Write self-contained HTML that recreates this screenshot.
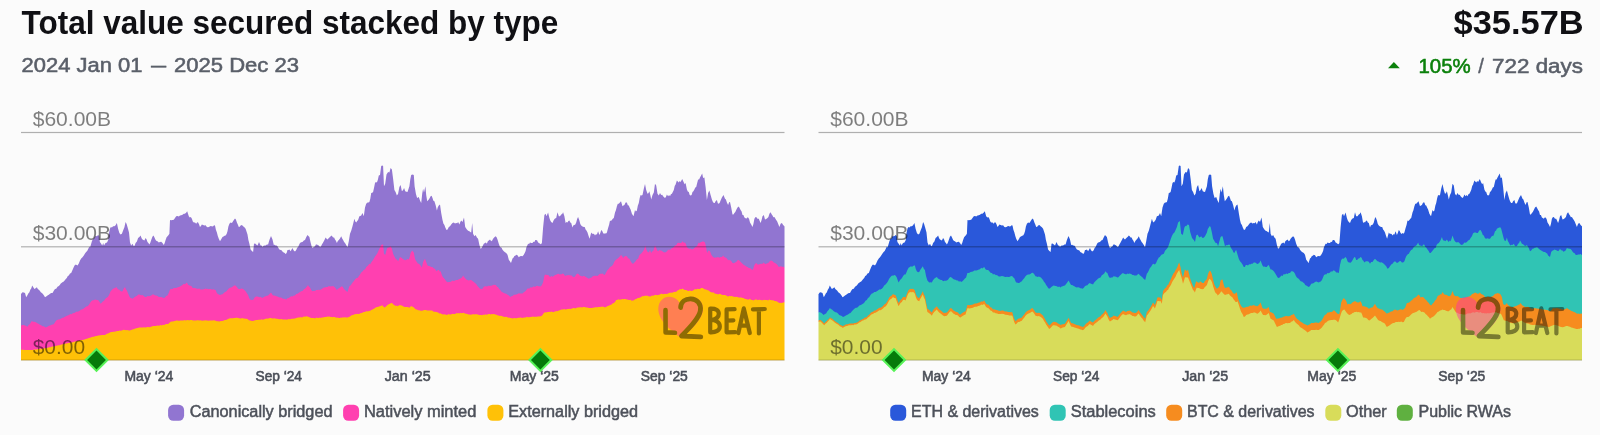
<!DOCTYPE html>
<html><head><meta charset="utf-8"><title>Total value secured stacked by type</title>
<style>
html,body{margin:0;padding:0;background:#fbfbfb;}
body{width:1600px;height:435px;overflow:hidden;font-family:"Liberation Sans",sans-serif;}
svg{display:block;font-family:"Liberation Sans",sans-serif;will-change:transform;opacity:0.9999;}
</style></head><body>
<svg width="1600" height="435" viewBox="0 0 1600 435">
<rect width="1600" height="435" fill="#fbfbfb"/>

<text x="21.6" y="34.4" font-size="32.8" font-weight="bold" fill="#101014" textLength="536.6" lengthAdjust="spacingAndGlyphs">Total value secured stacked by type</text>
<text x="21.6" y="72.4" font-size="20.2" fill="#5a5f69" stroke="#5a5f69" stroke-width="0.55" textLength="120.8" lengthAdjust="spacingAndGlyphs">2024 Jan 01</text>
<text x="151" y="72.4" font-size="20.2" fill="#5a5f69" stroke="#5a5f69" stroke-width="0.4" textLength="15.2" lengthAdjust="spacingAndGlyphs">—</text>
<text x="174" y="72.4" font-size="20.2" fill="#5a5f69" stroke="#5a5f69" stroke-width="0.55" textLength="125" lengthAdjust="spacingAndGlyphs">2025 Dec 23</text>
<text x="1453.6" y="33.8" font-size="34" font-weight="bold" fill="#101014" textLength="130" lengthAdjust="spacingAndGlyphs">$35.57B</text>
<path d="M1388,68.2 L1393.9,62 L1399.8,68.2Z" fill="#0b800b"/>
<text x="1418.5" y="72.6" font-size="20.2" fill="#0b800b" stroke="#0b800b" stroke-width="0.55" textLength="52.2" lengthAdjust="spacingAndGlyphs">105%</text>
<text x="1478.2" y="72.6" font-size="20.2" fill="#5a5f69" stroke="#5a5f69" stroke-width="0.4">/</text>
<text x="1492" y="72.6" font-size="20.2" fill="#5a5f69" stroke="#5a5f69" stroke-width="0.55" textLength="91" lengthAdjust="spacingAndGlyphs">722 days</text>

<defs><clipPath id="cl"><rect x="21.0" y="100" width="763.5" height="260.3"/></clipPath><clipPath id="cr"><rect x="818.5" y="100" width="763.5" height="260.3"/></clipPath></defs>
<g clip-path="url(#cl)" opacity="0.999">
<path d="M18.0,363.3 L18.0,294.1 L21.0,294.1 L22.5,292.2 L23.8,292.5 L25.0,292.9 L26.2,297.2 L27.3,295.4 L28.3,293.4 L29.4,292.2 L30.3,289.8 L31.3,288.3 L32.2,285.4 L33.3,287.3 L34.4,289.1 L35.6,288.3 L36.9,287.2 L37.8,288.9 L38.8,289.8 L39.8,290.7 L40.8,292.2 L41.9,292.9 L42.9,293.9 L44.0,295.4 L45.0,297.2 L46.2,296.6 L47.5,295.6 L48.8,294.8 L50.0,293.8 L51.2,293.1 L52.5,292.9 L53.8,290.7 L55.0,289.1 L56.2,288.7 L57.5,286.7 L58.8,286.0 L59.8,285.0 L60.8,283.6 L61.8,282.7 L62.8,282.0 L63.8,281.6 L64.8,280.2 L65.8,279.1 L66.8,278.1 L67.8,275.9 L68.8,275.4 L70.0,273.6 L71.2,272.9 L72.5,269.9 L73.8,267.0 L75.0,264.8 L76.2,264.7 L77.5,265.4 L78.8,263.4 L80.0,260.5 L81.2,258.5 L82.5,257.2 L83.8,255.6 L85.0,253.5 L86.1,252.0 L87.2,250.9 L88.3,248.8 L89.4,246.6 L90.0,247.5 L90.9,244.8 L91.9,241.2 L92.9,239.0 L94.0,238.6 L95.0,236.2 L96.0,236.3 L97.1,235.9 L98.1,235.0 L99.2,236.0 L99.9,242.0 L101.0,243.5 L102.2,245.5 L103.2,243.0 L104.0,245.5 L105.5,243.0 L107.0,242.5 L108.2,240.0 L109.0,233.0 L110.0,228.5 L110.9,227.1 L111.9,227.5 L113.1,226.2 L114.4,226.2 L115.6,225.3 L116.9,222.9 L118.1,228.8 L119.4,233.1 L120.6,234.5 L121.9,233.8 L123.1,230.6 L124.4,227.2 L125.6,221.9 L126.6,224.0 L127.5,226.9 L129.0,232.5 L130.0,242.5 L131.2,245.6 L132.5,243.8 L133.8,246.2 L134.7,245.4 L135.6,243.1 L136.9,241.6 L138.1,238.1 L139.4,237.1 L140.6,235.6 L141.6,238.2 L142.5,239.4 L143.4,239.9 L144.4,240.6 L145.6,238.1 L146.6,239.4 L147.5,241.9 L148.4,243.1 L149.4,244.4 L150.3,242.7 L151.2,240.0 L152.4,236.8 L153.5,235.6 L154.6,237.7 L155.6,240.0 L156.6,241.0 L157.5,241.2 L158.8,242.5 L160.0,241.9 L161.2,241.7 L162.5,243.1 L163.8,245.0 L164.7,243.0 L165.6,240.0 L166.6,237.3 L167.5,236.2 L168.4,235.2 L169.4,233.8 L170.0,220.0 L171.2,220.3 L172.5,220.0 L173.8,219.7 L175.0,218.0 L176.2,216.2 L177.5,216.1 L178.8,216.4 L180.0,215.6 L181.2,215.2 L182.5,214.7 L183.8,213.8 L184.9,213.7 L186.1,212.7 L187.2,211.2 L188.8,216.2 L189.8,217.5 L190.8,217.0 L191.9,218.8 L192.8,221.4 L193.8,222.5 L195.0,222.4 L196.2,223.8 L197.2,222.2 L198.1,222.5 L199.1,224.6 L200.0,226.9 L200.9,226.1 L201.9,224.4 L203.1,225.1 L204.4,225.6 L205.6,225.3 L206.9,226.9 L207.9,227.2 L209.0,227.0 L210.0,226.2 L211.0,225.9 L212.1,226.5 L213.1,226.2 L214.1,225.2 L215.0,225.6 L215.9,229.7 L216.9,232.5 L217.8,235.9 L218.8,238.8 L220.0,241.2 L221.2,239.2 L222.5,236.9 L223.5,236.5 L224.6,235.7 L225.6,235.6 L226.6,234.0 L227.5,231.2 L228.4,226.5 L229.4,223.8 L230.6,222.5 L231.9,223.1 L232.9,221.6 L234.0,219.7 L235.0,218.5 L235.9,219.5 L236.9,222.5 L237.8,224.4 L238.8,226.9 L239.7,226.8 L240.6,225.6 L241.9,224.9 L243.1,226.2 L244.4,227.3 L245.6,228.8 L246.6,231.7 L247.5,234.4 L248.4,240.1 L249.4,243.8 L250.6,249.4 L251.9,251.1 L253.1,251.9 L254.0,243.8 L255.1,243.4 L256.2,244.4 L257.5,245.6 L259.0,241.9 L260.6,245.6 L261.6,245.6 L262.5,246.9 L263.5,245.8 L264.6,245.4 L265.6,245.6 L266.9,244.5 L268.1,244.4 L269.4,240.0 L271.0,235.9 L272.5,239.4 L273.8,245.0 L274.7,244.8 L275.6,245.6 L276.6,245.6 L277.5,246.2 L278.4,248.0 L279.4,249.4 L280.6,250.0 L281.9,250.6 L282.8,252.0 L283.8,252.5 L284.7,253.0 L285.6,254.0 L286.6,252.9 L287.5,250.0 L288.4,250.1 L289.4,249.4 L290.6,251.2 L291.6,249.4 L292.5,248.1 L293.4,250.1 L294.4,251.2 L295.3,251.3 L296.2,250.0 L297.2,247.8 L298.1,246.9 L299.1,244.8 L300.0,243.1 L301.2,242.3 L302.5,241.9 L303.8,240.4 L305.0,240.0 L306.2,237.3 L307.5,235.0 L308.4,235.9 L309.4,236.9 L310.6,242.5 L311.6,246.3 L312.5,248.1 L313.8,247.0 L315.0,246.2 L315.9,244.4 L316.9,244.4 L317.8,245.0 L318.8,245.6 L320.0,246.9 L320.9,246.6 L321.9,244.4 L322.8,242.9 L323.8,241.2 L324.7,239.6 L325.6,237.5 L326.6,238.7 L327.5,239.4 L328.4,238.5 L329.4,237.5 L330.3,236.8 L331.2,235.6 L332.2,236.2 L333.1,237.5 L334.1,237.4 L335.0,239.4 L335.9,240.8 L336.9,243.1 L337.8,240.9 L338.8,240.0 L340.0,238.4 L341.2,236.2 L342.2,238.5 L343.1,240.0 L344.1,242.1 L345.0,243.1 L346.2,245.1 L347.5,247.2 L348.8,241.2 L350.0,233.8 L351.2,230.8 L352.5,226.2 L353.4,222.8 L354.4,218.8 L355.3,221.4 L356.2,222.5 L357.2,221.0 L358.1,220.0 L359.4,216.2 L360.3,216.0 L361.2,215.6 L362.5,213.1 L363.8,216.2 L365.0,207.5 L366.2,203.8 L367.5,202.5 L368.4,202.6 L369.4,201.9 L370.3,198.8 L371.2,193.1 L372.2,192.7 L373.1,191.9 L374.1,187.4 L375.0,183.1 L375.9,182.0 L376.9,182.5 L377.8,180.0 L378.8,175.6 L380.0,175.0 L381.2,166.0 L382.2,165.6 L383.1,166.0 L384.0,186.2 L385.2,183.8 L386.5,174.4 L388.1,171.9 L389.4,172.5 L390.6,168.1 L391.9,169.4 L393.1,178.8 L394.4,190.0 L395.6,191.9 L396.9,195.6 L398.1,193.8 L399.4,186.9 L400.6,185.0 L401.9,191.2 L403.1,190.0 L404.1,188.1 L405.2,191.2 L406.4,191.7 L407.5,191.9 L408.4,189.2 L409.4,186.2 L410.3,179.3 L411.2,175.0 L412.5,174.4 L413.8,175.0 L414.6,186.2 L415.9,193.8 L417.1,198.1 L418.8,196.9 L420.0,200.6 L421.2,203.1 L422.2,193.8 L423.1,188.8 L424.0,192.5 L425.4,186.2 L426.2,195.0 L427.2,201.2 L428.8,199.4 L429.7,198.1 L430.6,196.2 L431.6,195.8 L432.5,198.1 L433.4,200.8 L434.4,201.2 L435.6,205.0 L436.9,210.6 L437.8,207.2 L438.8,205.6 L440.0,204.4 L441.2,213.1 L442.5,220.0 L443.4,223.6 L444.4,225.0 L445.4,227.8 L446.5,230.0 L447.6,229.5 L448.8,226.9 L450.0,226.3 L451.2,224.4 L452.5,223.1 L453.8,222.5 L455.0,223.5 L456.2,223.1 L457.2,223.3 L458.1,221.9 L459.4,224.4 L460.3,221.9 L461.2,220.6 L462.5,221.9 L464.0,217.5 L465.2,226.9 L466.9,229.4 L468.1,230.8 L469.4,231.2 L470.3,232.1 L471.2,232.5 L472.2,223.1 L473.1,233.8 L474.4,236.2 L475.6,235.0 L476.9,237.5 L478.1,238.8 L479.4,245.0 L480.6,248.8 L481.6,248.1 L482.5,246.2 L483.8,243.7 L485.0,243.1 L485.9,242.5 L486.9,243.8 L487.8,241.3 L488.8,240.6 L490.0,239.4 L491.2,241.2 L492.2,240.5 L493.1,238.8 L494.4,237.3 L495.6,236.2 L496.6,237.3 L497.5,239.4 L498.8,243.8 L500.0,246.9 L500.6,247.2 L501.6,247.7 L502.5,249.8 L503.8,251.2 L505.0,252.2 L506.2,252.9 L507.5,254.8 L508.8,259.8 L509.9,261.3 L511.0,262.9 L512.5,258.5 L513.4,257.8 L514.4,256.0 L515.3,255.8 L516.2,254.8 L517.5,255.2 L518.8,257.2 L520.0,256.2 L521.2,256.0 L522.5,256.3 L523.8,254.8 L524.7,253.0 L525.6,251.0 L526.4,247.2 L526.9,246.2 L528.1,243.8 L529.1,244.0 L530.0,242.5 L531.2,243.0 L532.5,243.1 L533.4,241.7 L534.4,241.9 L535.3,240.0 L536.2,240.0 L537.2,240.4 L538.1,242.5 L539.1,243.1 L540.0,243.8 L540.9,244.3 L541.9,243.1 L543.1,227.5 L544.4,215.0 L545.6,213.8 L546.5,216.2 L548.1,212.5 L549.4,218.1 L550.3,220.6 L551.2,221.9 L552.5,223.1 L553.8,220.0 L555.0,218.4 L556.2,218.1 L557.5,212.2 L558.8,216.2 L560.0,216.2 L561.2,214.4 L562.2,214.0 L563.1,212.2 L564.4,216.2 L565.6,223.1 L566.6,222.1 L567.5,222.5 L568.4,220.9 L569.4,220.6 L570.3,222.4 L571.2,223.1 L572.5,227.5 L573.4,225.3 L574.4,225.0 L575.3,224.4 L576.2,222.5 L577.2,218.7 L578.1,216.9 L579.4,220.6 L580.3,224.1 L581.2,225.6 L582.5,226.5 L583.8,226.9 L584.7,227.1 L585.6,229.4 L586.6,230.7 L587.5,232.5 L588.6,235.9 L589.6,238.8 L591.2,232.5 L592.2,233.7 L593.1,233.8 L594.1,234.1 L595.0,235.6 L595.9,234.3 L596.9,234.4 L598.1,231.2 L599.4,235.0 L600.3,232.9 L601.2,230.0 L602.2,231.1 L603.1,233.1 L604.1,234.0 L605.0,233.1 L605.9,233.7 L606.9,232.5 L608.1,228.1 L609.1,224.8 L610.0,220.6 L610.9,221.0 L611.9,220.0 L612.8,218.7 L613.8,218.1 L615.0,212.5 L615.9,210.3 L616.9,206.2 L617.8,203.7 L618.8,203.8 L619.9,202.5 L621.0,201.2 L622.5,206.2 L623.4,205.4 L624.4,205.0 L625.6,202.5 L626.9,202.5 L627.8,205.2 L628.8,205.6 L629.7,207.8 L630.6,209.4 L631.9,213.8 L633.5,216.2 L635.0,210.0 L635.9,211.6 L636.9,210.6 L637.8,205.8 L638.8,203.1 L639.7,197.9 L640.6,195.0 L641.6,195.6 L642.5,195.0 L643.8,188.8 L645.0,184.1 L646.2,190.0 L647.5,193.8 L648.4,193.2 L649.4,191.2 L650.6,196.2 L651.2,199.4 L652.5,195.0 L653.8,192.5 L655.0,183.8 L656.2,185.6 L657.5,193.8 L658.8,195.6 L660.0,193.1 L661.2,195.0 L662.2,194.8 L663.1,196.2 L664.1,197.2 L665.0,198.1 L665.9,197.1 L666.9,194.4 L668.1,196.2 L669.1,195.1 L670.0,196.2 L670.9,194.3 L671.9,193.8 L672.8,191.9 L673.8,190.0 L674.7,186.0 L675.6,184.4 L676.9,180.6 L677.8,181.4 L678.8,182.5 L679.7,180.9 L680.6,181.9 L682.2,179.0 L683.8,182.5 L684.7,184.3 L685.6,183.1 L686.9,189.4 L687.8,191.4 L688.8,191.9 L689.7,195.0 L690.6,195.6 L691.6,195.1 L692.5,191.9 L693.4,191.2 L694.4,189.4 L695.3,187.4 L696.2,186.9 L697.2,183.1 L698.1,179.4 L699.1,179.5 L700.0,177.5 L701.1,175.5 L702.2,173.5 L703.1,178.1 L704.4,177.5 L705.6,186.9 L706.9,200.0 L708.1,193.1 L709.4,190.6 L710.6,195.0 L711.9,199.4 L712.8,201.7 L713.8,203.1 L714.7,203.1 L715.6,201.2 L716.9,200.0 L717.8,203.2 L718.8,203.8 L719.7,202.8 L720.6,200.6 L721.9,197.5 L723.5,195.0 L725.0,198.8 L725.9,199.6 L726.9,202.5 L728.1,205.0 L729.1,202.3 L730.0,201.9 L731.2,207.5 L732.5,214.4 L733.4,214.4 L734.4,213.1 L735.3,212.1 L736.2,210.0 L737.5,207.5 L738.8,206.6 L739.7,208.3 L740.6,210.0 L741.6,211.4 L742.5,215.0 L743.4,215.1 L744.4,217.5 L745.3,218.1 L746.2,218.8 L747.2,217.6 L748.1,217.5 L749.1,218.9 L750.0,222.5 L751.2,224.6 L752.5,226.9 L753.4,223.9 L754.4,218.8 L755.3,217.2 L756.2,216.9 L757.5,218.7 L758.8,218.8 L759.7,220.9 L760.6,223.1 L761.6,219.9 L762.5,216.2 L763.8,215.0 L765.0,219.4 L766.2,219.1 L767.5,218.1 L768.4,217.1 L769.4,213.8 L770.6,212.2 L771.6,214.3 L772.5,215.6 L773.4,217.2 L774.4,216.9 L775.3,218.4 L776.2,220.0 L777.2,221.4 L778.1,223.8 L779.4,226.9 L780.6,223.8 L781.9,223.1 L783.1,225.0 L784.4,226.2 L784.5,226.2 L787.5,226.2 L787.5,363.3Z" fill="#9175d1" />
<path d="M18.0,363.3 L18.0,325.5 L21.0,325.5 L21.2,325.5 L22.5,325.0 L23.8,324.9 L25.0,325.5 L26.2,326.0 L27.5,326.8 L28.6,325.1 L29.7,324.2 L30.8,322.4 L31.9,321.1 L33.0,321.7 L34.1,321.8 L35.2,321.9 L36.2,322.4 L37.3,323.3 L38.4,323.8 L39.5,324.4 L40.6,324.9 L41.6,325.6 L42.6,326.2 L43.6,326.2 L44.6,326.7 L45.6,327.4 L46.7,327.0 L47.8,326.5 L48.9,325.8 L50.0,325.5 L51.2,324.9 L52.5,324.5 L53.8,324.2 L55.0,322.3 L56.2,320.5 L57.2,319.9 L58.2,319.5 L59.2,319.6 L60.2,318.9 L61.2,318.6 L62.3,317.8 L63.3,317.7 L64.4,317.0 L65.4,316.5 L66.5,316.1 L67.5,315.5 L68.5,315.3 L69.6,314.4 L70.6,314.0 L71.7,314.2 L72.7,313.3 L73.8,313.0 L74.8,312.8 L75.8,312.0 L76.9,311.6 L77.9,311.8 L79.0,311.1 L80.0,310.5 L81.0,309.6 L82.0,309.5 L83.0,308.9 L84.0,308.3 L85.0,307.5 L86.2,306.5 L87.5,306.2 L88.8,305.0 L90.0,303.1 L91.2,301.2 L92.5,300.3 L93.8,300.3 L95.0,299.4 L96.0,299.8 L97.1,300.0 L98.1,300.0 L99.4,301.7 L100.6,303.8 L101.9,302.6 L103.1,301.2 L104.2,300.6 L105.2,299.0 L106.2,298.1 L107.5,297.2 L108.8,295.6 L109.7,293.6 L110.6,291.2 L111.9,290.1 L113.1,288.8 L114.2,288.3 L115.2,287.9 L116.2,286.9 L117.2,288.3 L118.1,289.4 L119.1,289.6 L120.0,290.6 L121.2,291.4 L122.5,291.2 L123.8,288.5 L125.0,286.9 L125.9,289.3 L126.9,290.6 L127.8,292.8 L128.8,295.0 L129.7,297.1 L130.6,298.1 L131.6,298.3 L132.5,298.8 L133.8,297.7 L135.0,296.7 L136.2,296.2 L137.3,295.6 L138.3,294.5 L139.4,294.4 L140.4,295.0 L141.5,295.2 L142.5,295.0 L143.8,295.9 L145.0,296.9 L146.2,296.9 L147.5,296.1 L148.8,296.2 L150.0,295.9 L151.2,295.4 L152.5,294.4 L153.8,294.4 L155.0,295.4 L156.2,295.6 L157.5,296.0 L158.8,296.9 L160.0,296.9 L161.2,296.9 L162.5,297.4 L163.8,298.1 L165.0,297.5 L166.2,296.0 L167.5,295.6 L168.8,292.8 L170.0,289.4 L171.2,289.1 L172.5,288.9 L173.8,288.1 L174.8,288.1 L175.8,288.1 L176.8,287.7 L177.8,287.2 L178.8,286.9 L180.0,286.6 L181.2,285.7 L182.5,285.0 L183.6,283.8 L184.7,284.2 L185.8,283.5 L186.9,282.5 L188.1,284.7 L189.4,285.6 L190.5,285.8 L191.6,286.3 L192.7,287.9 L193.8,288.1 L195.0,287.9 L196.2,288.6 L197.5,288.8 L198.5,288.8 L199.5,288.4 L200.5,289.4 L201.5,289.5 L202.5,289.4 L203.5,289.3 L204.5,289.0 L205.5,288.5 L206.5,288.9 L207.5,288.8 L208.5,289.2 L209.5,289.0 L210.5,288.9 L211.5,289.4 L212.5,289.4 L213.5,289.2 L214.6,289.7 L215.6,290.0 L216.6,292.4 L217.5,293.8 L218.8,294.5 L220.0,295.0 L221.2,294.4 L222.5,294.2 L223.8,293.1 L225.0,292.1 L226.2,291.4 L227.5,290.0 L228.8,288.6 L230.0,287.8 L231.2,287.5 L232.5,286.8 L233.8,285.8 L235.0,285.2 L236.0,285.9 L237.1,287.2 L238.1,288.8 L239.2,288.9 L240.3,289.0 L241.4,288.5 L242.5,288.8 L243.5,289.3 L244.6,290.3 L245.6,291.2 L246.9,293.2 L248.1,295.0 L249.1,297.7 L250.0,299.4 L251.0,299.7 L252.1,300.0 L253.1,300.0 L254.1,298.3 L255.0,296.9 L256.2,296.4 L257.5,296.4 L258.8,296.9 L259.8,297.2 L260.9,296.8 L262.0,297.9 L263.1,297.5 L264.1,296.8 L265.1,296.4 L266.1,296.1 L267.1,295.7 L268.1,295.6 L269.1,294.5 L270.0,293.4 L271.0,292.5 L272.1,294.3 L273.1,295.6 L274.2,295.4 L275.2,295.8 L276.2,296.2 L277.5,296.6 L278.8,297.2 L280.0,297.5 L281.2,297.5 L282.5,298.6 L283.8,298.8 L285.0,298.9 L286.2,299.4 L287.5,298.3 L288.8,298.0 L290.0,296.9 L291.2,296.3 L292.5,296.4 L293.8,295.6 L295.0,295.4 L296.2,294.0 L297.5,293.8 L298.8,292.7 L300.0,292.0 L301.2,291.2 L302.5,291.0 L303.8,289.3 L305.0,288.8 L306.0,287.4 L306.9,286.7 L307.9,285.0 L308.9,286.5 L310.0,287.5 L311.2,290.0 L312.5,291.2 L313.8,290.7 L315.0,290.9 L316.2,290.0 L317.5,290.0 L318.8,289.7 L320.0,290.0 L321.2,289.3 L322.5,288.4 L323.8,287.5 L325.0,287.4 L326.2,287.1 L327.5,286.9 L328.8,286.1 L330.0,286.6 L331.2,286.2 L332.3,286.2 L333.3,286.1 L334.4,286.9 L335.6,288.2 L336.9,290.0 L338.1,288.7 L339.4,288.1 L340.6,287.0 L341.9,286.2 L342.9,287.0 L344.0,289.1 L345.0,290.0 L346.2,290.9 L347.5,291.9 L348.4,289.1 L349.4,286.2 L350.5,285.5 L351.6,284.0 L352.8,282.2 L353.9,280.9 L355.0,279.4 L356.2,278.2 L357.5,277.9 L358.8,276.2 L360.0,274.4 L361.2,272.5 L362.5,271.6 L363.8,269.8 L365.0,269.4 L366.0,267.4 L367.1,266.2 L368.1,265.6 L369.2,263.8 L370.2,264.3 L371.2,262.5 L372.5,260.7 L373.8,258.8 L375.0,256.4 L376.2,255.0 L377.5,253.0 L378.8,250.0 L380.0,247.4 L381.2,245.0 L382.2,244.4 L383.1,244.4 L384.0,253.8 L385.2,255.0 L386.9,248.8 L387.8,247.4 L388.8,247.5 L389.7,247.1 L390.6,246.2 L391.9,248.8 L393.1,253.8 L394.1,255.9 L395.0,257.5 L395.9,259.3 L396.9,259.4 L398.1,261.2 L399.1,259.0 L400.0,256.9 L400.9,257.5 L401.9,258.1 L402.8,259.0 L403.8,259.4 L405.0,260.3 L406.2,260.0 L407.5,258.9 L408.8,259.4 L409.7,257.1 L410.6,253.1 L412.2,250.6 L413.8,252.5 L415.0,258.8 L415.9,260.8 L416.9,261.9 L417.8,263.4 L418.8,263.8 L419.7,264.6 L420.6,265.6 L421.9,267.5 L423.1,261.9 L424.1,260.1 L425.0,258.8 L426.2,261.9 L427.5,265.6 L428.8,265.9 L430.0,266.2 L431.2,267.0 L432.5,266.9 L433.8,268.4 L435.0,268.8 L435.9,270.5 L436.9,271.2 L437.8,270.1 L438.8,270.0 L439.7,271.4 L440.6,271.2 L441.9,275.0 L442.8,277.1 L443.8,278.1 L445.0,279.6 L446.2,281.2 L447.5,282.2 L448.8,281.9 L450.0,281.9 L451.2,281.6 L452.5,280.6 L453.8,281.0 L455.0,280.6 L456.2,280.0 L457.5,280.1 L458.8,279.2 L460.0,278.8 L461.0,278.2 L462.1,277.2 L463.1,275.6 L464.1,277.0 L465.0,278.1 L466.2,279.6 L467.5,280.0 L468.8,280.5 L470.0,280.1 L471.2,280.0 L472.5,281.1 L473.8,281.9 L475.0,283.0 L476.2,284.0 L477.5,286.0 L478.5,286.9 L479.6,288.3 L480.6,289.1 L481.7,288.9 L482.8,288.4 L483.9,286.6 L485.0,286.6 L486.0,285.9 L487.0,286.7 L488.0,285.7 L489.0,285.8 L490.0,286.0 L491.0,285.5 L492.0,285.8 L493.0,284.7 L494.0,284.9 L495.0,284.8 L496.0,285.3 L497.1,286.7 L498.1,287.2 L499.2,288.9 L500.2,289.8 L501.2,291.6 L502.5,292.3 L503.8,293.0 L505.0,293.5 L506.2,293.7 L507.5,294.8 L508.9,295.4 L510.2,297.0 L511.4,296.3 L512.6,296.0 L513.8,294.8 L515.0,294.8 L516.2,294.6 L517.5,294.1 L518.8,293.3 L520.0,293.4 L521.2,293.5 L522.5,293.5 L523.8,292.3 L525.0,291.6 L526.2,290.3 L527.5,288.5 L528.5,288.6 L529.5,288.5 L530.5,287.2 L531.5,287.6 L532.5,287.2 L533.8,286.3 L535.0,286.9 L536.2,286.0 L537.3,285.7 L538.4,286.3 L539.5,286.2 L540.6,286.6 L541.9,284.9 L543.1,282.2 L544.4,275.4 L545.6,274.6 L546.9,275.0 L548.1,275.0 L549.1,275.7 L550.0,277.2 L551.2,276.1 L552.5,276.8 L553.8,276.0 L555.0,275.0 L556.2,274.7 L557.5,274.1 L558.5,273.7 L559.5,274.4 L560.5,274.3 L561.5,274.3 L562.5,273.5 L563.8,274.1 L565.0,276.0 L566.0,275.5 L567.0,275.3 L568.0,275.2 L569.0,275.1 L570.0,275.4 L571.2,275.3 L572.5,276.4 L573.8,277.2 L575.0,276.4 L576.2,274.5 L577.5,273.5 L578.8,274.2 L580.0,275.8 L581.2,276.0 L582.5,276.4 L583.8,275.7 L585.0,276.6 L586.2,277.2 L587.5,277.9 L588.8,278.8 L590.0,277.9 L591.2,277.7 L592.5,276.6 L593.5,276.1 L594.5,275.8 L595.5,275.8 L596.5,275.7 L597.5,276.0 L598.8,274.7 L600.0,273.8 L601.0,273.7 L602.0,273.7 L603.0,273.5 L604.0,274.9 L605.0,274.4 L606.2,272.2 L607.5,270.0 L608.8,268.8 L610.0,266.9 L611.0,266.5 L612.1,265.8 L613.1,264.4 L614.4,261.5 L615.6,260.0 L616.7,259.2 L617.7,258.4 L618.8,257.5 L619.9,256.3 L621.0,255.0 L622.1,256.1 L623.1,258.1 L624.4,256.6 L625.6,256.1 L626.9,256.2 L628.1,258.3 L629.4,258.8 L630.3,260.5 L631.2,261.9 L632.2,263.5 L633.1,263.8 L634.4,262.6 L635.6,261.2 L636.9,259.3 L638.1,258.8 L639.1,255.8 L640.0,254.4 L641.2,253.5 L642.5,251.9 L643.4,250.8 L644.4,248.8 L645.2,245.6 L646.5,250.0 L648.1,252.5 L649.1,251.7 L650.0,250.0 L651.2,253.1 L652.2,251.3 L653.1,251.2 L654.1,248.4 L655.0,245.6 L656.2,248.1 L657.2,250.4 L658.1,251.2 L659.4,250.0 L660.6,250.6 L661.9,250.7 L663.1,251.9 L664.1,252.2 L665.0,252.5 L666.2,252.1 L667.5,250.6 L668.8,249.6 L670.0,250.0 L671.2,248.6 L672.5,248.1 L673.8,246.9 L675.0,245.6 L676.2,245.2 L677.5,243.1 L678.8,242.8 L680.0,243.1 L681.2,243.0 L682.5,241.2 L683.8,242.7 L685.0,242.5 L685.9,244.0 L686.9,246.9 L688.1,248.3 L689.4,248.8 L690.6,248.6 L691.9,249.4 L693.1,249.1 L694.4,248.1 L695.6,246.7 L696.9,246.2 L697.8,244.3 L698.8,242.5 L699.8,243.2 L700.8,242.1 L701.9,241.9 L702.9,241.3 L704.0,241.8 L705.0,242.5 L706.2,247.5 L707.1,253.1 L708.4,250.6 L710.0,251.2 L711.2,254.4 L712.2,255.9 L713.1,256.9 L714.4,257.8 L715.6,257.5 L716.9,257.6 L718.1,256.9 L719.4,257.7 L720.6,256.9 L721.9,256.9 L723.1,255.6 L724.1,256.8 L725.0,257.5 L726.2,257.8 L727.5,259.4 L728.8,260.2 L730.0,260.0 L731.2,261.0 L732.5,263.1 L733.8,263.2 L735.0,262.5 L736.2,262.1 L737.5,260.3 L738.8,260.0 L740.0,261.2 L741.2,262.5 L742.5,263.7 L743.8,265.0 L745.0,265.6 L746.2,266.4 L747.5,266.9 L748.8,267.9 L750.0,268.1 L751.2,269.0 L752.5,270.0 L753.4,268.2 L754.4,265.0 L755.3,263.7 L756.2,263.1 L757.5,264.4 L758.8,264.4 L760.0,264.0 L761.2,263.8 L762.5,263.8 L763.8,262.5 L765.0,263.9 L766.2,263.8 L767.5,263.3 L768.8,262.5 L769.9,260.9 L771.0,260.6 L772.4,261.0 L773.8,262.5 L775.0,263.1 L776.2,263.8 L777.5,265.0 L778.8,266.9 L780.0,266.4 L781.2,266.2 L782.3,267.0 L783.3,266.5 L784.4,267.5 L784.5,267.5 L787.5,267.5 L787.5,363.3Z" fill="#ff40b0" />
<path d="M18.0,363.3 L18.0,349.8 L21.0,349.8 L21.2,349.8 L22.4,349.7 L23.6,349.8 L24.7,349.9 L25.9,349.9 L27.0,350.0 L28.1,349.9 L29.2,350.0 L30.3,349.9 L31.4,350.0 L32.5,349.9 L33.5,349.7 L34.5,349.5 L35.5,349.5 L36.6,349.4 L37.6,349.2 L38.6,349.1 L39.6,348.9 L40.6,348.8 L41.7,348.7 L42.9,348.4 L44.0,348.3 L45.1,348.3 L46.2,348.1 L47.3,347.9 L48.3,347.6 L49.4,347.3 L50.4,347.2 L51.5,346.8 L52.5,346.6 L53.5,346.4 L54.5,346.2 L55.5,346.1 L56.5,345.7 L57.5,345.6 L58.5,345.2 L59.6,345.2 L60.6,344.8 L61.7,344.4 L62.7,344.2 L63.8,344.0 L64.8,343.8 L65.8,343.6 L66.9,343.4 L67.9,343.0 L69.0,343.1 L70.0,342.8 L71.0,342.4 L72.1,342.4 L73.1,341.9 L74.2,341.7 L75.2,341.6 L76.2,341.2 L77.3,341.0 L78.3,341.0 L79.4,340.7 L80.4,340.3 L81.5,340.1 L82.5,340.0 L83.5,339.8 L84.6,339.4 L85.6,339.1 L86.7,338.7 L87.7,338.6 L88.8,338.1 L89.8,337.8 L90.8,337.6 L91.9,337.0 L92.9,336.8 L94.0,336.7 L95.0,336.2 L96.0,336.1 L97.0,336.0 L98.0,335.5 L99.0,335.4 L100.0,335.2 L101.0,335.2 L102.0,335.1 L103.0,335.0 L104.0,335.1 L105.0,334.9 L106.0,334.3 L107.0,333.7 L108.0,333.5 L109.0,332.9 L110.0,332.4 L111.1,332.0 L112.1,332.1 L113.2,331.7 L114.3,331.7 L115.4,331.6 L116.4,331.2 L117.5,331.1 L118.6,331.1 L119.6,330.6 L120.7,330.8 L121.8,330.6 L122.9,330.1 L123.9,329.8 L125.0,329.9 L126.0,330.2 L127.0,330.0 L128.0,330.2 L129.0,330.4 L130.0,330.5 L131.0,330.1 L132.0,329.8 L133.0,329.3 L134.0,329.2 L135.0,328.6 L136.0,328.6 L137.0,328.1 L138.0,327.9 L139.0,327.4 L140.0,327.4 L141.0,327.6 L142.0,327.6 L143.0,327.4 L144.0,327.3 L145.0,327.4 L146.0,327.4 L147.1,327.0 L148.1,327.1 L149.2,327.2 L150.2,327.0 L151.2,326.8 L152.3,326.3 L153.3,326.1 L154.4,326.1 L155.4,326.0 L156.5,325.8 L157.5,325.5 L158.5,325.7 L159.6,325.5 L160.6,324.9 L161.7,325.4 L162.7,324.8 L163.8,324.9 L164.8,324.8 L165.8,324.1 L166.8,324.0 L167.8,323.9 L168.8,323.6 L170.0,322.3 L171.2,321.5 L172.2,321.5 L173.2,321.4 L174.2,321.0 L175.2,321.0 L176.2,320.5 L177.3,320.5 L178.3,320.7 L179.4,320.7 L180.4,320.5 L181.5,320.4 L182.5,320.5 L183.5,320.5 L184.5,320.0 L185.5,320.4 L186.5,320.2 L187.5,319.9 L188.6,320.3 L189.6,320.2 L190.7,319.9 L191.8,319.9 L192.9,320.5 L193.9,320.6 L195.0,320.5 L196.0,320.5 L197.1,320.2 L198.1,320.2 L199.2,320.5 L200.2,320.2 L201.2,320.5 L202.3,320.7 L203.3,320.5 L204.4,320.4 L205.4,320.2 L206.5,320.5 L207.5,320.5 L208.6,320.7 L209.6,320.5 L210.7,320.4 L211.8,320.6 L212.9,320.5 L213.9,320.3 L215.0,320.5 L216.1,321.0 L217.2,321.3 L218.3,321.3 L219.4,321.5 L220.0,321.2 L221.2,321.1 L222.5,321.1 L223.8,320.6 L224.8,320.1 L225.8,319.9 L226.8,319.7 L227.8,319.1 L228.8,318.8 L229.8,318.3 L230.8,318.2 L231.9,318.3 L232.9,318.2 L234.0,317.9 L235.0,317.9 L236.0,317.7 L237.1,317.8 L238.1,318.0 L239.2,318.3 L240.2,318.5 L241.2,318.4 L242.2,318.1 L243.2,318.4 L244.2,318.5 L245.2,318.7 L246.2,318.8 L247.5,319.1 L248.8,320.3 L250.0,320.6 L251.0,320.8 L252.1,321.0 L253.1,320.9 L254.2,320.6 L255.3,320.2 L256.4,319.9 L257.5,320.0 L258.5,319.7 L259.6,319.7 L260.6,319.8 L261.7,319.3 L262.7,319.8 L263.8,319.4 L264.8,318.9 L265.8,318.8 L266.9,318.6 L267.9,318.7 L269.0,318.3 L270.0,318.1 L271.0,317.9 L272.1,318.5 L273.1,318.5 L274.2,318.2 L275.2,318.5 L276.2,318.8 L277.3,318.8 L278.3,319.0 L279.4,319.2 L280.4,319.2 L281.5,319.0 L282.5,319.4 L283.8,319.4 L285.0,319.4 L286.2,319.6 L287.2,319.8 L288.2,319.1 L289.2,319.3 L290.2,319.2 L291.2,318.8 L292.2,318.8 L293.2,318.7 L294.2,318.4 L295.2,318.5 L296.2,318.1 L297.2,317.7 L298.2,317.6 L299.2,317.5 L300.2,317.2 L301.2,317.2 L302.2,317.4 L303.2,316.7 L304.2,316.4 L305.2,316.8 L306.2,316.2 L307.5,316.6 L308.8,316.9 L310.0,317.6 L311.2,318.1 L312.5,318.1 L313.5,318.0 L314.6,318.2 L315.6,318.3 L316.7,317.6 L317.7,317.9 L318.8,317.9 L319.8,317.4 L320.8,318.0 L321.8,317.6 L322.8,317.4 L323.8,317.2 L325.0,317.1 L326.2,316.9 L327.5,316.6 L328.5,316.8 L329.5,316.6 L330.5,317.1 L331.5,317.1 L332.5,317.2 L333.5,317.0 L334.6,317.1 L335.6,317.4 L336.7,317.7 L337.7,317.6 L338.8,317.9 L339.8,317.9 L340.8,317.6 L341.8,317.8 L342.8,317.3 L343.8,317.5 L345.0,317.3 L346.2,317.5 L347.5,317.5 L348.8,316.9 L350.0,316.6 L351.2,315.6 L352.5,315.1 L353.8,314.7 L355.0,314.0 L356.0,314.2 L357.0,313.7 L358.0,314.0 L359.0,314.0 L360.0,313.5 L361.0,313.1 L362.0,312.9 L363.0,312.3 L364.0,311.9 L365.0,311.9 L366.0,311.3 L367.0,311.2 L368.0,311.5 L369.0,310.8 L370.0,311.0 L371.2,310.0 L372.5,309.6 L373.8,308.8 L375.0,307.9 L376.2,307.3 L377.5,306.9 L378.5,306.8 L379.6,306.2 L380.6,305.9 L381.6,305.4 L382.5,305.4 L383.4,306.6 L384.4,307.5 L385.4,306.9 L386.5,306.0 L387.5,305.0 L388.8,304.2 L390.0,303.8 L391.2,303.1 L392.3,303.3 L393.3,304.5 L394.4,305.0 L395.4,305.9 L396.5,305.4 L397.5,306.2 L398.8,305.6 L400.0,305.0 L401.0,305.4 L402.0,305.6 L403.0,306.2 L404.0,306.8 L405.0,306.9 L406.2,307.1 L407.5,306.9 L408.8,307.5 L409.8,307.5 L410.8,306.3 L411.9,306.2 L412.9,306.9 L414.0,307.6 L415.0,308.8 L416.0,309.4 L417.0,309.6 L418.0,310.2 L419.0,310.2 L420.0,310.6 L421.0,310.8 L422.0,310.8 L423.0,310.6 L424.0,310.0 L425.0,310.0 L426.0,310.1 L427.1,310.4 L428.1,310.6 L429.2,310.4 L430.2,310.6 L431.2,310.6 L432.2,310.5 L433.2,311.5 L434.2,311.7 L435.2,311.8 L436.2,311.9 L437.2,312.3 L438.2,312.4 L439.2,313.4 L440.2,313.2 L441.2,313.8 L442.2,314.2 L443.2,314.5 L444.2,314.3 L445.2,314.6 L446.2,314.8 L447.3,314.9 L448.3,314.1 L449.4,314.5 L450.4,314.4 L451.5,314.3 L452.5,313.8 L453.5,313.9 L454.6,313.9 L455.6,313.7 L456.7,313.1 L457.7,313.5 L458.8,313.1 L459.8,313.4 L460.8,312.8 L461.8,313.2 L462.8,313.1 L463.8,312.8 L464.8,313.4 L465.8,313.7 L466.8,313.7 L467.8,314.2 L468.8,314.4 L469.8,314.5 L470.8,314.7 L471.9,314.5 L472.9,314.2 L474.0,314.2 L475.0,314.4 L476.0,314.1 L477.1,314.6 L478.1,314.6 L479.2,314.9 L480.2,315.1 L481.2,315.0 L482.3,315.2 L483.3,314.4 L484.4,315.1 L485.4,314.2 L486.5,314.7 L487.5,314.4 L488.5,314.1 L489.6,314.1 L490.6,314.4 L491.7,314.0 L492.7,314.3 L493.8,314.0 L494.8,314.3 L495.8,314.8 L496.8,314.8 L497.8,315.5 L498.8,315.6 L499.8,315.9 L500.8,315.8 L501.9,315.9 L502.9,316.5 L504.0,316.7 L505.0,316.9 L506.0,316.8 L507.1,317.1 L508.1,317.7 L509.2,317.4 L510.2,317.9 L511.2,318.1 L512.3,318.5 L513.3,318.3 L514.4,317.9 L515.4,318.3 L516.5,318.3 L517.5,318.1 L518.5,317.7 L519.6,317.7 L520.6,317.5 L521.7,317.7 L522.7,318.0 L523.8,317.5 L524.8,317.5 L525.8,317.4 L526.9,316.8 L527.9,317.3 L529.0,317.3 L530.0,316.9 L531.0,316.9 L532.1,316.7 L533.1,316.6 L534.2,317.1 L535.2,316.5 L536.2,316.9 L537.2,316.5 L538.2,316.4 L539.2,316.5 L540.2,316.2 L541.2,316.2 L542.5,315.0 L543.8,313.1 L545.0,312.3 L546.2,312.5 L547.5,311.9 L548.5,311.9 L549.5,311.7 L550.5,312.1 L551.5,311.5 L552.5,311.9 L553.5,312.2 L554.5,311.4 L555.5,311.5 L556.5,311.0 L557.5,311.2 L558.8,310.5 L560.0,310.3 L561.2,309.4 L562.2,309.6 L563.2,309.6 L564.2,309.0 L565.2,309.5 L566.2,309.4 L567.2,309.0 L568.2,308.9 L569.2,308.8 L570.2,309.1 L571.2,308.8 L572.2,308.5 L573.2,308.1 L574.2,308.0 L575.2,308.5 L576.2,308.1 L577.5,307.6 L578.8,307.5 L580.0,307.2 L581.0,307.2 L582.1,307.4 L583.1,306.9 L584.2,307.0 L585.2,307.3 L586.2,307.5 L587.5,307.6 L588.8,308.0 L590.0,308.1 L591.0,308.0 L592.0,308.1 L593.0,307.8 L594.0,307.4 L595.0,307.5 L596.0,307.1 L597.0,307.6 L598.0,307.0 L599.0,306.9 L600.0,306.9 L601.0,306.8 L602.1,306.7 L603.1,306.5 L604.2,307.3 L605.2,307.3 L606.2,306.9 L607.5,306.1 L608.8,305.8 L610.0,305.0 L611.2,304.7 L612.5,303.6 L613.8,303.1 L615.0,302.0 L616.2,300.0 L617.2,299.9 L618.2,299.2 L619.2,299.7 L620.2,299.5 L621.2,299.4 L622.3,299.1 L623.3,299.3 L624.4,298.9 L625.4,298.9 L626.5,299.4 L627.5,299.4 L628.5,299.9 L629.5,300.0 L630.5,299.8 L631.5,300.8 L632.5,300.6 L633.5,300.5 L634.5,299.7 L635.5,298.9 L636.5,299.1 L637.5,298.1 L638.8,298.0 L640.0,297.5 L641.2,296.9 L642.5,296.0 L643.8,296.3 L645.0,295.6 L646.0,295.9 L647.0,295.5 L648.0,296.1 L649.0,296.4 L650.0,296.2 L651.0,296.4 L652.0,295.2 L653.0,296.0 L654.0,295.2 L655.0,295.0 L656.0,294.8 L657.0,295.2 L658.0,294.9 L659.0,294.7 L660.0,294.4 L661.0,293.7 L662.0,293.8 L663.0,294.3 L664.0,293.9 L665.0,293.8 L666.0,294.0 L667.0,293.7 L668.0,293.7 L669.0,292.8 L670.0,293.1 L671.0,292.6 L672.0,292.8 L673.0,292.4 L674.0,291.7 L675.0,291.9 L676.2,291.7 L677.5,290.6 L678.8,290.0 L680.0,289.0 L681.2,289.5 L682.5,288.5 L683.8,289.5 L685.0,290.1 L686.2,290.0 L687.5,290.8 L688.8,290.9 L690.0,290.6 L691.2,291.0 L692.5,290.8 L693.8,290.0 L695.0,289.1 L696.2,289.4 L697.5,288.8 L698.8,289.0 L700.0,288.9 L701.2,288.1 L702.5,288.0 L703.8,288.7 L705.0,289.4 L706.2,289.4 L707.5,290.2 L708.8,290.6 L710.0,291.7 L711.2,292.3 L712.5,292.5 L713.8,292.6 L715.0,293.7 L716.2,293.8 L717.5,294.3 L718.8,294.3 L720.0,293.8 L721.2,294.6 L722.5,295.0 L723.8,295.0 L725.0,295.1 L726.2,295.4 L727.5,296.2 L728.5,296.6 L729.5,295.8 L730.5,296.2 L731.5,295.9 L732.5,296.2 L733.5,296.7 L734.5,296.8 L735.5,296.9 L736.5,296.7 L737.5,296.9 L738.5,297.4 L739.5,297.4 L740.5,297.6 L741.5,297.4 L742.5,298.1 L743.5,297.9 L744.5,298.7 L745.5,298.9 L746.5,299.2 L747.5,299.4 L748.5,299.8 L749.5,299.1 L750.5,299.3 L751.5,299.9 L752.5,300.0 L753.5,300.4 L754.6,299.7 L755.6,299.4 L756.7,299.4 L757.7,300.2 L758.8,299.8 L759.8,299.8 L760.8,299.9 L761.9,300.3 L762.9,300.2 L764.0,299.7 L765.0,300.0 L766.0,300.1 L767.1,300.1 L768.1,300.5 L769.2,299.6 L770.2,300.0 L771.2,300.0 L772.2,300.4 L773.2,300.1 L774.2,301.1 L775.2,301.0 L776.2,301.2 L777.5,301.7 L778.8,302.7 L780.0,303.1 L781.1,302.7 L782.2,303.0 L783.3,302.3 L784.4,302.5 L784.5,302.5 L787.5,302.5 L787.5,363.3Z" fill="#ffc107" />
</g><g clip-path="url(#cr)" opacity="0.999">
<path d="M815.5,363.3 L815.5,294.1 L818.5,294.1 L820.0,292.2 L821.2,292.5 L822.5,292.9 L823.8,297.2 L824.8,295.4 L825.8,293.4 L826.9,292.2 L827.8,289.8 L828.8,288.3 L829.8,285.4 L830.8,287.3 L831.9,289.1 L833.1,288.3 L834.4,287.2 L835.3,288.9 L836.2,289.8 L837.3,290.7 L838.3,292.2 L839.4,292.9 L840.4,293.9 L841.5,295.4 L842.5,297.2 L843.8,296.6 L845.0,295.6 L846.2,294.8 L847.5,293.8 L848.8,293.1 L850.0,292.9 L851.2,290.7 L852.5,289.1 L853.8,288.7 L855.0,286.7 L856.2,286.0 L857.2,285.0 L858.2,283.6 L859.2,282.7 L860.2,282.0 L861.2,281.6 L862.2,280.2 L863.2,279.1 L864.2,278.1 L865.2,275.9 L866.2,275.4 L867.5,273.6 L868.8,272.9 L870.0,269.9 L871.2,267.0 L872.5,264.8 L873.8,264.7 L875.0,265.4 L876.2,263.4 L877.5,260.5 L878.8,258.5 L880.0,257.2 L881.2,255.6 L882.5,253.5 L883.6,252.0 L884.7,250.9 L885.8,248.8 L886.9,246.6 L887.5,247.5 L888.4,244.8 L889.4,241.2 L890.4,239.0 L891.5,238.6 L892.5,236.2 L893.5,236.3 L894.6,235.9 L895.6,235.0 L896.8,236.0 L897.4,242.0 L898.5,243.5 L899.8,245.5 L900.8,243.0 L901.5,245.5 L903.0,243.0 L904.5,242.5 L905.8,240.0 L906.5,233.0 L907.5,228.5 L908.4,227.1 L909.4,227.5 L910.6,226.2 L911.9,226.2 L913.1,225.3 L914.4,222.9 L915.6,228.8 L916.9,233.1 L918.1,234.5 L919.4,233.8 L920.6,230.6 L921.9,227.2 L923.1,221.9 L924.1,224.0 L925.0,226.9 L926.5,232.5 L927.5,242.5 L928.8,245.6 L930.0,243.8 L931.2,246.2 L932.2,245.4 L933.1,243.1 L934.4,241.6 L935.6,238.1 L936.9,237.1 L938.1,235.6 L939.1,238.2 L940.0,239.4 L940.9,239.9 L941.9,240.6 L943.1,238.1 L944.1,239.4 L945.0,241.9 L945.9,243.1 L946.9,244.4 L947.8,242.7 L948.8,240.0 L949.9,236.8 L951.0,235.6 L952.1,237.7 L953.1,240.0 L954.1,241.0 L955.0,241.2 L956.2,242.5 L957.5,241.9 L958.8,241.7 L960.0,243.1 L961.2,245.0 L962.2,243.0 L963.1,240.0 L964.1,237.3 L965.0,236.2 L965.9,235.2 L966.9,233.8 L967.5,220.0 L968.8,220.3 L970.0,220.0 L971.2,219.7 L972.5,218.0 L973.8,216.2 L975.0,216.1 L976.2,216.4 L977.5,215.6 L978.8,215.2 L980.0,214.7 L981.2,213.8 L982.4,213.7 L983.6,212.7 L984.8,211.2 L986.2,216.2 L987.3,217.5 L988.3,217.0 L989.4,218.8 L990.3,221.4 L991.2,222.5 L992.5,222.4 L993.8,223.8 L994.7,222.2 L995.6,222.5 L996.6,224.6 L997.5,226.9 L998.4,226.1 L999.4,224.4 L1000.6,225.1 L1001.9,225.6 L1003.1,225.3 L1004.4,226.9 L1005.4,227.2 L1006.5,227.0 L1007.5,226.2 L1008.5,225.9 L1009.6,226.5 L1010.6,226.2 L1011.6,225.2 L1012.5,225.6 L1013.4,229.7 L1014.4,232.5 L1015.3,235.9 L1016.2,238.8 L1017.5,241.2 L1018.8,239.2 L1020.0,236.9 L1021.0,236.5 L1022.1,235.7 L1023.1,235.6 L1024.1,234.0 L1025.0,231.2 L1025.9,226.5 L1026.9,223.8 L1028.1,222.5 L1029.4,223.1 L1030.4,221.6 L1031.5,219.7 L1032.5,218.5 L1033.4,219.5 L1034.4,222.5 L1035.3,224.4 L1036.2,226.9 L1037.2,226.8 L1038.1,225.6 L1039.4,224.9 L1040.6,226.2 L1041.9,227.3 L1043.1,228.8 L1044.1,231.7 L1045.0,234.4 L1045.9,240.1 L1046.9,243.8 L1048.1,249.4 L1049.4,251.1 L1050.6,251.9 L1051.5,243.8 L1052.6,243.4 L1053.8,244.4 L1055.0,245.6 L1056.5,241.9 L1058.1,245.6 L1059.1,245.6 L1060.0,246.9 L1061.0,245.8 L1062.1,245.4 L1063.1,245.6 L1064.4,244.5 L1065.6,244.4 L1066.9,240.0 L1068.5,235.9 L1070.0,239.4 L1071.2,245.0 L1072.2,244.8 L1073.1,245.6 L1074.1,245.6 L1075.0,246.2 L1075.9,248.0 L1076.9,249.4 L1078.1,250.0 L1079.4,250.6 L1080.3,252.0 L1081.2,252.5 L1082.2,253.0 L1083.1,254.0 L1084.1,252.9 L1085.0,250.0 L1085.9,250.1 L1086.9,249.4 L1088.1,251.2 L1089.1,249.4 L1090.0,248.1 L1090.9,250.1 L1091.9,251.2 L1092.8,251.3 L1093.8,250.0 L1094.7,247.8 L1095.6,246.9 L1096.6,244.8 L1097.5,243.1 L1098.8,242.3 L1100.0,241.9 L1101.2,240.4 L1102.5,240.0 L1103.8,237.3 L1105.0,235.0 L1105.9,235.9 L1106.9,236.9 L1108.1,242.5 L1109.1,246.3 L1110.0,248.1 L1111.2,247.0 L1112.5,246.2 L1113.4,244.4 L1114.4,244.4 L1115.3,245.0 L1116.2,245.6 L1117.5,246.9 L1118.4,246.6 L1119.4,244.4 L1120.3,242.9 L1121.2,241.2 L1122.2,239.6 L1123.1,237.5 L1124.1,238.7 L1125.0,239.4 L1125.9,238.5 L1126.9,237.5 L1127.8,236.8 L1128.8,235.6 L1129.7,236.2 L1130.6,237.5 L1131.6,237.4 L1132.5,239.4 L1133.4,240.8 L1134.4,243.1 L1135.3,240.9 L1136.2,240.0 L1137.5,238.4 L1138.8,236.2 L1139.7,238.5 L1140.6,240.0 L1141.6,242.1 L1142.5,243.1 L1143.8,245.1 L1145.0,247.2 L1146.2,241.2 L1147.5,233.8 L1148.8,230.8 L1150.0,226.2 L1150.9,222.8 L1151.9,218.8 L1152.8,221.4 L1153.8,222.5 L1154.7,221.0 L1155.6,220.0 L1156.9,216.2 L1157.8,216.0 L1158.8,215.6 L1160.0,213.1 L1161.2,216.2 L1162.5,207.5 L1163.8,203.8 L1165.0,202.5 L1165.9,202.6 L1166.9,201.9 L1167.8,198.8 L1168.8,193.1 L1169.7,192.7 L1170.6,191.9 L1171.6,187.4 L1172.5,183.1 L1173.4,182.0 L1174.4,182.5 L1175.3,180.0 L1176.2,175.6 L1177.5,175.0 L1178.8,166.0 L1179.7,165.6 L1180.6,166.0 L1181.5,186.2 L1182.8,183.8 L1184.0,174.4 L1185.6,171.9 L1186.9,172.5 L1188.1,168.1 L1189.4,169.4 L1190.6,178.8 L1191.9,190.0 L1193.1,191.9 L1194.4,195.6 L1195.6,193.8 L1196.9,186.9 L1198.1,185.0 L1199.4,191.2 L1200.6,190.0 L1201.6,188.1 L1202.8,191.2 L1203.9,191.7 L1205.0,191.9 L1205.9,189.2 L1206.9,186.2 L1207.8,179.3 L1208.8,175.0 L1210.0,174.4 L1211.2,175.0 L1212.1,186.2 L1213.4,193.8 L1214.6,198.1 L1216.2,196.9 L1217.5,200.6 L1218.8,203.1 L1219.8,193.8 L1220.6,188.8 L1221.5,192.5 L1222.9,186.2 L1223.8,195.0 L1224.8,201.2 L1226.2,199.4 L1227.2,198.1 L1228.1,196.2 L1229.1,195.8 L1230.0,198.1 L1230.9,200.8 L1231.9,201.2 L1233.1,205.0 L1234.4,210.6 L1235.3,207.2 L1236.2,205.6 L1237.5,204.4 L1238.8,213.1 L1240.0,220.0 L1240.9,223.6 L1241.9,225.0 L1242.9,227.8 L1244.0,230.0 L1245.1,229.5 L1246.2,226.9 L1247.5,226.3 L1248.8,224.4 L1250.0,223.1 L1251.2,222.5 L1252.5,223.5 L1253.8,223.1 L1254.7,223.3 L1255.6,221.9 L1256.9,224.4 L1257.8,221.9 L1258.8,220.6 L1260.0,221.9 L1261.5,217.5 L1262.8,226.9 L1264.4,229.4 L1265.6,230.8 L1266.9,231.2 L1267.8,232.1 L1268.8,232.5 L1269.8,223.1 L1270.6,233.8 L1271.9,236.2 L1273.1,235.0 L1274.4,237.5 L1275.6,238.8 L1276.9,245.0 L1278.1,248.8 L1279.1,248.1 L1280.0,246.2 L1281.2,243.7 L1282.5,243.1 L1283.4,242.5 L1284.4,243.8 L1285.3,241.3 L1286.2,240.6 L1287.5,239.4 L1288.8,241.2 L1289.7,240.5 L1290.6,238.8 L1291.9,237.3 L1293.1,236.2 L1294.1,237.3 L1295.0,239.4 L1296.2,243.8 L1297.5,246.9 L1298.1,247.2 L1299.1,247.7 L1300.0,249.8 L1301.2,251.2 L1302.5,252.2 L1303.8,252.9 L1305.0,254.8 L1306.2,259.8 L1307.4,261.3 L1308.5,262.9 L1310.0,258.5 L1310.9,257.8 L1311.9,256.0 L1312.8,255.8 L1313.8,254.8 L1315.0,255.2 L1316.2,257.2 L1317.5,256.2 L1318.8,256.0 L1320.0,256.3 L1321.2,254.8 L1322.2,253.0 L1323.1,251.0 L1323.9,247.2 L1324.4,246.2 L1325.6,243.8 L1326.6,244.0 L1327.5,242.5 L1328.8,243.0 L1330.0,243.1 L1330.9,241.7 L1331.9,241.9 L1332.8,240.0 L1333.8,240.0 L1334.7,240.4 L1335.6,242.5 L1336.6,243.1 L1337.5,243.8 L1338.4,244.3 L1339.4,243.1 L1340.6,227.5 L1341.9,215.0 L1343.1,213.8 L1344.0,216.2 L1345.6,212.5 L1346.9,218.1 L1347.8,220.6 L1348.8,221.9 L1350.0,223.1 L1351.2,220.0 L1352.5,218.4 L1353.8,218.1 L1355.0,212.2 L1356.2,216.2 L1357.5,216.2 L1358.8,214.4 L1359.7,214.0 L1360.6,212.2 L1361.9,216.2 L1363.1,223.1 L1364.1,222.1 L1365.0,222.5 L1365.9,220.9 L1366.9,220.6 L1367.8,222.4 L1368.8,223.1 L1370.0,227.5 L1370.9,225.3 L1371.9,225.0 L1372.8,224.4 L1373.8,222.5 L1374.7,218.7 L1375.6,216.9 L1376.9,220.6 L1377.8,224.1 L1378.8,225.6 L1380.0,226.5 L1381.2,226.9 L1382.2,227.1 L1383.1,229.4 L1384.1,230.7 L1385.0,232.5 L1386.1,235.9 L1387.1,238.8 L1388.8,232.5 L1389.7,233.7 L1390.6,233.8 L1391.6,234.1 L1392.5,235.6 L1393.4,234.3 L1394.4,234.4 L1395.6,231.2 L1396.9,235.0 L1397.8,232.9 L1398.8,230.0 L1399.7,231.1 L1400.6,233.1 L1401.6,234.0 L1402.5,233.1 L1403.4,233.7 L1404.4,232.5 L1405.6,228.1 L1406.6,224.8 L1407.5,220.6 L1408.4,221.0 L1409.4,220.0 L1410.3,218.7 L1411.2,218.1 L1412.5,212.5 L1413.4,210.3 L1414.4,206.2 L1415.3,203.7 L1416.2,203.8 L1417.4,202.5 L1418.5,201.2 L1420.0,206.2 L1420.9,205.4 L1421.9,205.0 L1423.1,202.5 L1424.4,202.5 L1425.3,205.2 L1426.2,205.6 L1427.2,207.8 L1428.1,209.4 L1429.4,213.8 L1431.0,216.2 L1432.5,210.0 L1433.4,211.6 L1434.4,210.6 L1435.3,205.8 L1436.2,203.1 L1437.2,197.9 L1438.1,195.0 L1439.1,195.6 L1440.0,195.0 L1441.2,188.8 L1442.5,184.1 L1443.8,190.0 L1445.0,193.8 L1445.9,193.2 L1446.9,191.2 L1448.1,196.2 L1448.8,199.4 L1450.0,195.0 L1451.2,192.5 L1452.5,183.8 L1453.8,185.6 L1455.0,193.8 L1456.2,195.6 L1457.5,193.1 L1458.8,195.0 L1459.7,194.8 L1460.6,196.2 L1461.6,197.2 L1462.5,198.1 L1463.4,197.1 L1464.4,194.4 L1465.6,196.2 L1466.6,195.1 L1467.5,196.2 L1468.4,194.3 L1469.4,193.8 L1470.3,191.9 L1471.2,190.0 L1472.2,186.0 L1473.1,184.4 L1474.4,180.6 L1475.3,181.4 L1476.2,182.5 L1477.2,180.9 L1478.1,181.9 L1479.8,179.0 L1481.2,182.5 L1482.2,184.3 L1483.1,183.1 L1484.4,189.4 L1485.3,191.4 L1486.2,191.9 L1487.2,195.0 L1488.1,195.6 L1489.1,195.1 L1490.0,191.9 L1490.9,191.2 L1491.9,189.4 L1492.8,187.4 L1493.8,186.9 L1494.7,183.1 L1495.6,179.4 L1496.6,179.5 L1497.5,177.5 L1498.6,175.5 L1499.8,173.5 L1500.6,178.1 L1501.9,177.5 L1503.1,186.9 L1504.4,200.0 L1505.6,193.1 L1506.9,190.6 L1508.1,195.0 L1509.4,199.4 L1510.3,201.7 L1511.2,203.1 L1512.2,203.1 L1513.1,201.2 L1514.4,200.0 L1515.3,203.2 L1516.2,203.8 L1517.2,202.8 L1518.1,200.6 L1519.4,197.5 L1521.0,195.0 L1522.5,198.8 L1523.4,199.6 L1524.4,202.5 L1525.6,205.0 L1526.6,202.3 L1527.5,201.9 L1528.8,207.5 L1530.0,214.4 L1530.9,214.4 L1531.9,213.1 L1532.8,212.1 L1533.8,210.0 L1535.0,207.5 L1536.2,206.6 L1537.2,208.3 L1538.1,210.0 L1539.1,211.4 L1540.0,215.0 L1540.9,215.1 L1541.9,217.5 L1542.8,218.1 L1543.8,218.8 L1544.7,217.6 L1545.6,217.5 L1546.6,218.9 L1547.5,222.5 L1548.8,224.6 L1550.0,226.9 L1550.9,223.9 L1551.9,218.8 L1552.8,217.2 L1553.8,216.9 L1555.0,218.7 L1556.2,218.8 L1557.2,220.9 L1558.1,223.1 L1559.1,219.9 L1560.0,216.2 L1561.2,215.0 L1562.5,219.4 L1563.8,219.1 L1565.0,218.1 L1565.9,217.1 L1566.9,213.8 L1568.1,212.2 L1569.1,214.3 L1570.0,215.6 L1570.9,217.2 L1571.9,216.9 L1572.8,218.4 L1573.8,220.0 L1574.7,221.4 L1575.6,223.8 L1576.9,226.9 L1578.1,223.8 L1579.4,223.1 L1580.6,225.0 L1581.9,226.2 L1582.0,226.2 L1585.0,226.2 L1585.0,363.3Z" fill="#2a58da" />
<path d="M815.5,363.3 L815.5,312.4 L818.5,312.4 L819.5,312.1 L820.5,312.4 L821.5,313.1 L822.6,314.0 L823.6,314.9 L824.9,314.1 L826.1,313.6 L827.4,311.2 L828.6,310.1 L829.9,308.1 L830.9,309.0 L832.0,309.5 L833.0,310.6 L834.2,311.6 L835.5,312.2 L836.8,312.5 L838.0,313.5 L839.2,315.0 L840.5,315.6 L841.8,316.0 L843.0,316.9 L844.2,316.4 L845.5,315.7 L846.8,315.0 L848.0,314.5 L849.2,313.5 L850.5,313.1 L851.5,311.7 L852.6,310.6 L853.6,309.4 L854.7,308.5 L855.8,307.8 L856.9,307.8 L858.0,306.9 L859.0,305.8 L860.0,305.2 L861.0,305.1 L862.0,304.2 L863.0,303.8 L864.2,302.7 L865.5,300.8 L866.8,300.0 L868.0,298.0 L869.2,297.2 L870.5,295.0 L871.8,293.6 L873.0,293.2 L874.2,291.9 L875.5,292.0 L876.8,291.2 L878.0,290.6 L879.2,289.5 L880.5,289.6 L881.8,288.8 L883.0,287.4 L884.2,285.6 L885.5,284.4 L886.8,283.1 L888.0,281.2 L889.0,278.9 L890.1,277.5 L891.1,276.2 L892.2,275.4 L893.2,275.8 L894.2,275.0 L895.5,275.6 L896.8,277.5 L897.7,280.3 L898.6,282.5 L899.6,280.7 L900.5,279.4 L901.8,278.3 L903.0,276.2 L904.2,274.6 L905.5,274.4 L906.4,272.4 L907.4,270.0 L908.6,267.8 L909.9,266.9 L910.9,266.2 L912.0,266.7 L913.0,266.2 L913.9,265.6 L914.9,265.6 L915.8,269.0 L916.8,271.2 L918.0,272.3 L919.2,271.9 L920.2,269.9 L921.1,268.8 L922.8,266.2 L923.8,268.8 L924.9,270.0 L926.1,276.2 L927.4,280.6 L928.3,281.4 L929.2,282.5 L930.5,282.2 L931.8,282.5 L933.0,280.2 L934.2,278.8 L935.5,277.8 L936.8,276.9 L937.8,278.2 L938.8,279.0 L939.9,279.4 L940.9,279.9 L942.0,280.0 L943.0,281.2 L944.2,280.7 L945.5,280.8 L946.8,280.6 L948.0,279.7 L949.2,278.1 L950.2,277.0 L951.1,277.2 L952.2,277.9 L953.2,279.0 L954.2,279.4 L955.5,279.7 L956.8,280.6 L958.0,280.6 L959.0,281.7 L960.1,281.1 L961.1,281.9 L962.4,281.3 L963.6,280.0 L964.9,278.4 L966.1,277.5 L967.4,273.1 L968.4,272.9 L969.5,272.7 L970.5,271.9 L971.8,271.8 L973.0,271.6 L974.2,270.6 L975.2,270.4 L976.2,270.5 L977.2,270.3 L978.2,269.7 L979.2,269.4 L980.2,269.1 L981.2,267.7 L982.2,268.4 L983.2,267.8 L984.2,266.9 L985.5,269.2 L986.8,270.0 L987.8,270.1 L988.8,270.6 L989.9,271.9 L990.9,273.0 L992.0,273.1 L993.0,274.4 L994.0,274.1 L995.0,274.4 L996.0,275.3 L997.0,275.0 L998.0,276.0 L999.0,276.4 L1000.0,276.5 L1001.0,276.2 L1002.0,276.0 L1003.0,276.2 L1004.0,276.4 L1005.0,277.0 L1006.0,277.0 L1007.0,276.8 L1008.0,276.9 L1009.1,276.9 L1010.2,276.6 L1011.3,276.0 L1012.4,276.2 L1013.3,277.6 L1014.2,278.1 L1015.2,280.5 L1016.1,282.5 L1017.1,282.6 L1018.0,283.1 L1019.2,283.0 L1020.5,281.9 L1021.8,281.2 L1023.0,279.6 L1024.2,278.3 L1025.5,276.2 L1026.8,275.0 L1028.0,274.4 L1029.2,274.4 L1030.4,273.9 L1031.6,273.1 L1032.8,272.8 L1034.1,274.1 L1035.5,276.2 L1036.6,276.6 L1037.7,276.9 L1038.8,276.4 L1039.9,276.9 L1040.9,277.6 L1042.0,278.8 L1043.0,280.0 L1044.0,281.8 L1045.1,282.9 L1046.1,285.0 L1047.1,286.3 L1048.0,287.7 L1049.0,288.8 L1050.1,288.3 L1051.3,286.9 L1052.4,286.2 L1053.5,285.6 L1054.6,285.7 L1055.7,285.9 L1056.8,286.2 L1058.0,286.9 L1059.2,286.6 L1060.5,287.5 L1061.6,286.6 L1062.7,286.2 L1063.8,285.8 L1064.9,285.6 L1066.1,283.9 L1067.4,282.2 L1068.6,280.6 L1069.9,283.1 L1071.1,285.0 L1072.2,285.1 L1073.3,285.7 L1074.4,286.3 L1075.5,286.9 L1076.8,287.4 L1078.0,287.3 L1079.2,287.5 L1080.3,288.2 L1081.3,288.2 L1082.4,288.8 L1083.6,288.1 L1084.9,286.3 L1086.1,285.6 L1087.4,285.2 L1088.6,283.8 L1089.9,283.1 L1090.9,283.8 L1092.0,284.0 L1093.0,284.4 L1094.0,282.7 L1095.1,281.4 L1096.1,280.6 L1097.2,279.6 L1098.2,278.6 L1099.2,278.1 L1100.5,277.6 L1101.8,275.2 L1103.0,274.4 L1104.2,273.4 L1105.5,271.2 L1106.4,272.5 L1107.4,273.1 L1108.6,276.3 L1109.9,278.1 L1111.1,277.4 L1112.4,277.4 L1113.6,276.2 L1114.9,276.6 L1116.1,276.7 L1117.4,277.5 L1118.4,277.3 L1119.5,276.0 L1120.5,275.0 L1121.8,273.7 L1123.0,273.1 L1124.0,273.7 L1125.1,274.0 L1126.1,274.4 L1127.2,273.5 L1128.2,273.9 L1129.2,273.5 L1130.3,273.7 L1131.3,273.9 L1132.4,275.0 L1133.4,274.9 L1134.5,275.5 L1135.5,275.6 L1136.5,275.6 L1137.6,274.6 L1138.6,273.8 L1139.9,275.3 L1141.1,276.2 L1142.4,277.2 L1143.6,278.8 L1145.2,280.0 L1146.8,273.8 L1147.8,272.6 L1148.8,270.5 L1149.9,268.1 L1150.9,266.9 L1152.0,265.2 L1153.0,263.8 L1153.9,263.9 L1154.9,264.4 L1156.1,263.0 L1157.4,260.0 L1158.8,257.5 L1159.8,257.0 L1160.8,255.4 L1161.8,254.6 L1162.8,254.3 L1163.8,253.8 L1165.0,250.8 L1166.2,249.4 L1167.5,248.1 L1168.8,245.0 L1169.7,242.3 L1170.6,239.4 L1171.9,236.0 L1173.1,233.8 L1174.4,232.5 L1175.6,230.0 L1176.9,226.9 L1178.1,222.5 L1179.8,221.0 L1181.2,233.8 L1182.8,235.0 L1184.4,227.5 L1185.3,226.0 L1186.2,226.2 L1187.5,224.4 L1189.0,225.0 L1190.2,231.9 L1191.9,237.5 L1192.8,238.9 L1193.8,240.0 L1195.0,241.9 L1196.2,235.6 L1197.5,234.4 L1198.4,235.9 L1199.4,237.5 L1200.3,237.1 L1201.2,236.2 L1202.2,237.8 L1203.1,238.1 L1204.1,237.3 L1205.0,236.2 L1205.9,234.5 L1206.9,232.5 L1207.8,229.0 L1208.8,227.5 L1209.7,226.1 L1210.6,226.9 L1211.9,232.5 L1213.1,238.8 L1214.1,240.5 L1215.0,241.9 L1215.9,243.3 L1216.9,243.1 L1218.1,246.2 L1219.4,241.2 L1220.6,236.9 L1221.6,236.2 L1222.5,236.2 L1223.8,241.2 L1225.0,246.2 L1225.9,245.6 L1226.9,245.0 L1227.8,245.2 L1228.8,244.4 L1229.7,244.7 L1230.6,246.9 L1231.6,249.1 L1232.5,250.0 L1233.4,252.2 L1234.4,253.1 L1235.3,250.9 L1236.2,250.0 L1237.5,254.4 L1238.8,258.8 L1240.0,261.3 L1241.2,262.5 L1242.5,264.5 L1243.8,266.9 L1244.8,267.0 L1245.8,265.0 L1246.9,265.0 L1248.0,265.4 L1249.1,264.2 L1250.2,264.5 L1251.2,263.8 L1252.5,263.8 L1253.8,262.4 L1255.0,262.5 L1256.0,263.0 L1257.1,264.0 L1258.1,263.8 L1259.4,262.8 L1260.6,260.6 L1261.6,263.2 L1262.5,265.6 L1263.5,266.7 L1264.6,266.5 L1265.6,266.9 L1266.7,266.9 L1267.7,265.8 L1268.8,265.0 L1269.7,267.3 L1270.6,269.4 L1271.7,269.6 L1272.7,270.3 L1273.8,271.2 L1275.0,273.1 L1276.2,275.0 L1277.2,276.8 L1278.1,278.1 L1279.2,277.7 L1280.2,277.1 L1281.2,275.6 L1282.5,275.9 L1283.8,274.1 L1285.0,274.4 L1286.2,273.6 L1287.5,274.0 L1288.8,273.1 L1290.0,272.9 L1291.2,271.2 L1292.5,271.2 L1293.8,272.1 L1295.0,273.8 L1295.9,276.1 L1296.9,277.5 L1297.9,278.2 L1299.0,279.0 L1300.0,280.6 L1301.0,281.4 L1302.1,281.4 L1303.1,282.5 L1304.2,283.3 L1305.2,285.0 L1306.2,285.6 L1307.5,286.2 L1308.8,286.9 L1310.0,285.9 L1311.2,283.8 L1312.5,283.4 L1313.8,282.9 L1315.0,281.9 L1316.2,281.4 L1317.5,282.0 L1318.8,282.5 L1319.8,281.7 L1320.8,281.5 L1321.9,280.0 L1322.8,277.9 L1323.8,275.6 L1325.0,274.3 L1326.2,274.4 L1327.5,273.1 L1328.8,273.2 L1330.0,272.5 L1331.0,271.2 L1332.1,271.8 L1333.1,270.6 L1334.2,270.6 L1335.2,271.3 L1336.2,272.5 L1337.5,272.5 L1338.8,273.1 L1340.0,265.0 L1341.2,260.0 L1342.5,258.6 L1343.8,258.8 L1344.7,257.7 L1345.6,256.9 L1346.6,258.6 L1347.5,261.2 L1348.4,262.3 L1349.4,262.5 L1350.6,262.7 L1351.9,261.2 L1353.1,259.0 L1354.4,256.9 L1355.3,257.6 L1356.2,260.0 L1357.2,260.0 L1358.1,258.8 L1359.4,258.3 L1360.6,256.9 L1361.6,257.7 L1362.5,260.0 L1363.4,260.8 L1364.4,262.5 L1365.4,261.5 L1366.5,261.2 L1367.5,261.2 L1368.8,261.7 L1370.0,263.8 L1371.2,262.1 L1372.5,261.9 L1373.8,260.1 L1375.0,258.8 L1376.2,259.9 L1377.5,261.2 L1378.5,261.4 L1379.6,262.3 L1380.6,262.5 L1381.7,262.2 L1382.7,263.1 L1383.8,263.8 L1385.0,264.9 L1386.2,266.2 L1387.5,268.8 L1388.8,267.9 L1390.0,266.2 L1391.2,264.6 L1392.5,263.8 L1393.8,262.0 L1395.0,261.2 L1395.9,261.9 L1396.9,263.1 L1398.1,262.5 L1399.4,261.2 L1400.6,261.1 L1401.9,262.5 L1403.1,262.6 L1404.4,261.2 L1405.3,258.4 L1406.2,256.2 L1407.5,254.5 L1408.8,253.8 L1410.0,251.6 L1411.2,250.0 L1412.5,249.2 L1413.8,246.9 L1415.0,246.3 L1416.2,245.6 L1417.2,244.2 L1418.1,242.5 L1419.1,244.9 L1420.0,245.6 L1421.1,245.7 L1422.2,246.2 L1423.3,244.6 L1424.4,244.8 L1425.3,247.0 L1426.2,247.5 L1427.5,249.6 L1428.8,251.2 L1429.7,252.9 L1430.6,253.1 L1431.9,251.6 L1433.1,250.0 L1434.4,248.3 L1435.6,248.1 L1436.6,245.1 L1437.5,243.8 L1438.8,242.9 L1440.0,241.2 L1440.9,239.6 L1441.9,236.9 L1443.1,240.6 L1444.1,240.2 L1445.0,241.2 L1445.9,240.8 L1446.9,239.4 L1447.8,241.1 L1448.8,241.9 L1449.7,240.6 L1450.6,241.2 L1451.6,238.4 L1452.5,235.6 L1453.4,237.9 L1454.4,240.6 L1455.6,242.0 L1456.9,242.5 L1458.1,241.9 L1459.4,243.1 L1460.6,244.5 L1461.9,245.0 L1463.1,244.3 L1464.4,242.5 L1465.6,242.8 L1466.9,241.9 L1468.1,240.6 L1469.4,240.0 L1470.6,238.1 L1471.9,236.2 L1473.1,233.3 L1474.4,232.5 L1475.6,232.5 L1476.9,233.1 L1477.8,233.0 L1478.8,231.2 L1479.8,230.0 L1480.8,230.3 L1481.9,232.5 L1482.8,235.1 L1483.8,235.6 L1485.0,238.2 L1486.2,238.8 L1487.5,238.2 L1488.8,238.8 L1490.0,238.8 L1491.2,236.9 L1492.2,235.7 L1493.1,236.2 L1494.1,234.1 L1495.0,231.2 L1495.9,230.8 L1496.9,228.8 L1498.1,228.1 L1499.4,227.5 L1500.3,227.2 L1501.2,228.8 L1502.5,233.8 L1503.8,238.8 L1505.0,241.2 L1505.9,240.4 L1506.9,237.5 L1507.8,240.9 L1508.8,242.5 L1509.7,244.4 L1510.6,245.6 L1511.6,244.7 L1512.5,245.0 L1513.8,243.8 L1514.7,245.5 L1515.6,246.2 L1516.9,245.9 L1518.1,243.8 L1519.1,242.9 L1520.0,240.6 L1520.9,241.7 L1521.9,243.8 L1523.1,244.2 L1524.4,245.6 L1525.6,245.9 L1526.9,245.0 L1527.8,246.5 L1528.8,248.1 L1530.0,251.2 L1531.2,250.5 L1532.5,248.8 L1533.8,248.6 L1535.0,247.5 L1535.9,247.7 L1536.9,246.9 L1537.8,247.8 L1538.8,248.8 L1540.0,249.7 L1541.2,250.6 L1542.5,251.3 L1543.8,251.9 L1545.0,252.1 L1546.2,253.1 L1547.2,253.5 L1548.1,255.6 L1549.1,256.2 L1550.0,256.9 L1551.2,251.9 L1552.2,250.8 L1553.1,250.6 L1554.4,249.5 L1555.6,250.0 L1556.9,250.4 L1558.1,251.2 L1559.1,250.2 L1560.0,248.8 L1561.2,250.2 L1562.5,250.6 L1563.4,251.8 L1564.4,251.2 L1565.6,250.6 L1566.9,248.1 L1568.1,248.4 L1569.4,248.8 L1570.6,249.0 L1571.9,250.6 L1573.1,252.6 L1574.4,253.1 L1575.6,254.7 L1576.9,255.0 L1578.1,254.5 L1579.4,254.4 L1580.6,254.0 L1581.9,255.0 L1582.0,255.0 L1585.0,255.0 L1585.0,363.3Z" fill="#30c4b4" />
<path d="M815.5,363.3 L815.5,320.5 L818.5,320.5 L819.5,320.0 L820.5,319.9 L821.8,321.1 L823.0,322.3 L824.2,323.6 L825.5,322.1 L826.8,321.1 L827.8,319.8 L828.8,319.0 L829.9,317.4 L831.1,318.2 L832.4,318.8 L833.6,319.9 L834.7,320.9 L835.8,321.7 L836.9,322.4 L838.0,323.0 L839.1,324.0 L840.2,324.9 L841.3,325.2 L842.4,326.1 L843.5,325.8 L844.6,325.2 L845.7,324.6 L846.8,324.2 L847.8,324.2 L848.9,323.7 L850.0,323.6 L851.1,323.6 L852.2,323.4 L853.3,323.6 L854.4,323.0 L855.5,323.0 L856.8,322.6 L858.0,321.9 L859.2,320.7 L860.5,320.3 L861.8,319.4 L862.8,318.9 L863.8,318.5 L864.8,317.5 L865.8,317.6 L866.8,316.9 L868.0,315.4 L869.2,314.7 L870.5,313.1 L871.8,312.1 L873.0,311.7 L874.2,310.6 L875.5,310.4 L876.8,309.5 L878.0,308.8 L879.2,307.8 L880.5,307.7 L881.8,306.9 L883.0,306.0 L884.2,304.6 L885.5,303.8 L886.8,302.1 L888.0,300.0 L889.2,297.6 L890.5,296.2 L891.8,295.5 L893.0,294.1 L894.2,294.8 L895.5,295.0 L896.5,297.6 L897.6,300.6 L898.6,303.1 L899.6,301.4 L900.5,300.0 L901.8,298.8 L903.0,296.9 L904.2,296.7 L905.5,297.5 L906.4,295.1 L907.4,292.5 L908.3,290.5 L909.2,289.4 L910.5,288.8 L911.8,289.1 L913.0,288.8 L913.9,289.5 L914.9,290.6 L915.8,293.9 L916.8,296.2 L918.0,297.7 L919.2,298.1 L920.2,295.9 L921.1,294.4 L922.8,291.2 L923.8,294.3 L924.9,296.2 L926.1,302.5 L927.4,308.8 L928.6,309.6 L929.9,310.6 L930.8,311.4 L931.8,312.5 L933.0,310.3 L934.2,308.8 L935.5,307.5 L936.8,306.2 L938.0,308.1 L939.2,309.4 L940.5,310.3 L941.8,311.2 L943.0,312.4 L944.2,313.1 L945.5,312.8 L946.8,312.5 L948.0,311.2 L949.2,309.4 L950.2,308.3 L951.1,308.1 L952.4,309.3 L953.6,310.6 L954.7,311.0 L955.7,311.8 L956.8,311.9 L958.0,312.4 L959.2,313.9 L960.5,314.4 L961.8,313.2 L963.0,312.5 L964.2,311.7 L965.5,311.2 L966.4,308.4 L967.4,305.0 L968.4,305.1 L969.5,305.3 L970.5,305.0 L971.8,304.8 L973.0,304.5 L974.2,303.8 L975.2,303.5 L976.2,303.5 L977.2,303.3 L978.2,302.8 L979.2,302.5 L980.2,302.2 L981.2,301.3 L982.2,301.7 L983.2,301.3 L984.2,300.6 L985.2,302.2 L986.1,303.8 L987.2,304.5 L988.2,304.6 L989.2,305.6 L990.5,307.2 L991.8,307.8 L993.0,309.4 L994.0,309.3 L995.0,309.5 L996.0,310.1 L997.0,310.0 L998.0,310.6 L999.0,310.8 L1000.0,310.9 L1001.0,310.7 L1002.0,310.5 L1003.0,310.6 L1004.0,310.9 L1005.0,311.4 L1006.0,311.6 L1007.0,311.6 L1008.0,311.9 L1009.1,312.1 L1010.2,312.2 L1011.3,312.1 L1012.4,312.5 L1013.3,315.9 L1014.2,318.8 L1015.5,321.2 L1016.8,320.1 L1018.0,318.8 L1019.2,318.6 L1020.5,317.9 L1021.8,317.5 L1023.0,315.8 L1024.2,314.4 L1025.5,312.5 L1026.8,311.3 L1028.0,310.5 L1029.2,310.0 L1030.3,309.4 L1031.3,308.6 L1032.4,308.1 L1033.4,309.2 L1034.5,310.8 L1035.5,312.5 L1036.6,312.8 L1037.7,313.0 L1038.8,312.8 L1039.9,313.1 L1040.9,313.8 L1042.0,314.7 L1043.0,315.6 L1044.0,317.6 L1045.1,319.1 L1046.1,321.2 L1047.2,322.8 L1048.2,324.2 L1049.2,325.6 L1050.5,324.6 L1051.8,323.0 L1053.0,321.9 L1054.2,321.8 L1055.5,322.1 L1056.8,322.5 L1058.0,323.4 L1059.2,323.9 L1060.5,325.0 L1061.6,324.5 L1062.7,324.2 L1063.8,323.9 L1064.9,323.8 L1066.1,321.7 L1067.4,319.7 L1068.6,317.8 L1069.9,320.6 L1071.1,323.1 L1072.2,323.3 L1073.3,323.6 L1074.4,324.0 L1075.5,324.4 L1076.8,324.9 L1078.0,325.2 L1079.2,325.6 L1080.5,326.2 L1081.8,326.4 L1083.0,326.9 L1084.2,325.9 L1085.5,324.2 L1086.8,323.1 L1087.8,322.5 L1088.8,321.4 L1089.9,320.6 L1090.9,321.4 L1092.0,321.9 L1093.0,322.5 L1094.0,321.2 L1095.1,320.2 L1096.1,319.4 L1097.2,318.5 L1098.2,317.5 L1099.2,316.9 L1100.5,316.2 L1101.8,314.6 L1103.0,313.8 L1104.2,312.2 L1105.5,310.0 L1106.4,311.7 L1107.4,313.1 L1108.6,316.0 L1109.9,318.1 L1111.1,317.2 L1112.4,316.7 L1113.6,315.6 L1114.9,316.0 L1116.1,316.2 L1117.4,316.9 L1118.4,316.0 L1119.5,314.5 L1120.5,313.1 L1121.8,311.7 L1123.0,310.6 L1124.0,311.1 L1125.1,311.5 L1126.1,311.9 L1127.2,311.1 L1128.2,311.1 L1129.2,310.6 L1130.3,311.1 L1131.3,311.5 L1132.4,312.5 L1133.4,312.5 L1134.5,313.0 L1135.5,313.1 L1136.5,312.4 L1137.6,311.2 L1138.6,310.0 L1139.9,312.0 L1141.1,313.8 L1142.4,315.2 L1143.6,316.9 L1145.2,318.8 L1146.8,311.9 L1147.8,311.0 L1148.8,309.7 L1149.9,308.1 L1150.9,306.4 L1152.0,304.4 L1153.0,302.5 L1153.9,303.6 L1154.9,305.0 L1156.1,301.7 L1157.4,297.5 L1158.4,297.3 L1159.5,297.6 L1160.5,297.5 L1161.8,300.0 L1163.0,291.2 L1164.0,289.5 L1165.1,288.2 L1166.1,287.5 L1167.2,285.2 L1168.2,284.8 L1169.2,282.5 L1170.3,280.3 L1171.3,277.9 L1172.4,275.6 L1173.4,273.4 L1174.5,272.3 L1175.5,270.0 L1176.4,268.9 L1177.4,266.9 L1178.3,264.3 L1179.2,262.5 L1180.5,266.9 L1181.8,273.8 L1183.0,277.5 L1183.9,273.7 L1184.9,269.4 L1185.8,270.0 L1186.8,271.2 L1188.0,269.4 L1188.9,273.3 L1189.9,277.5 L1190.8,280.5 L1191.8,283.1 L1193.0,286.2 L1194.2,288.1 L1195.2,284.4 L1196.1,281.2 L1197.2,282.0 L1198.2,282.5 L1199.2,283.1 L1200.0,281.2 L1201.2,282.0 L1202.5,283.0 L1203.8,283.1 L1204.8,281.1 L1205.8,280.3 L1206.9,278.8 L1207.8,274.7 L1208.8,271.9 L1209.7,270.8 L1210.6,271.2 L1211.6,273.5 L1212.5,276.9 L1213.4,281.0 L1214.4,284.4 L1215.6,287.0 L1216.9,288.8 L1218.1,287.8 L1219.4,286.2 L1220.6,280.6 L1221.6,279.8 L1222.5,279.4 L1223.8,285.0 L1225.0,288.1 L1226.0,287.7 L1227.1,287.4 L1228.1,286.9 L1229.2,287.3 L1230.2,289.5 L1231.2,290.0 L1232.5,292.2 L1233.8,293.8 L1235.0,293.8 L1235.9,292.7 L1236.9,292.5 L1238.1,298.8 L1239.1,301.3 L1240.0,303.8 L1241.2,306.1 L1242.5,307.5 L1243.8,307.7 L1245.0,307.5 L1246.2,306.9 L1247.5,306.7 L1248.8,306.4 L1250.0,305.6 L1251.2,305.8 L1252.5,305.5 L1253.8,305.0 L1255.0,305.7 L1256.2,305.9 L1257.5,306.2 L1258.5,305.3 L1259.6,304.1 L1260.6,302.5 L1261.6,305.4 L1262.5,308.1 L1263.8,308.7 L1265.0,308.8 L1266.2,308.8 L1267.5,307.9 L1268.8,306.9 L1270.0,311.9 L1271.2,312.3 L1272.5,313.0 L1273.8,313.8 L1275.0,316.2 L1276.2,318.8 L1277.5,318.6 L1278.8,318.5 L1280.0,318.1 L1281.0,317.4 L1282.0,317.7 L1283.0,316.7 L1284.0,316.8 L1285.0,316.2 L1286.0,315.9 L1287.0,316.1 L1288.0,316.5 L1289.0,316.1 L1290.0,316.2 L1291.2,315.1 L1292.5,314.8 L1293.8,313.8 L1295.0,316.1 L1296.2,318.1 L1297.5,319.3 L1298.8,319.9 L1300.0,321.2 L1301.2,322.1 L1302.5,322.7 L1303.8,323.8 L1305.0,324.2 L1306.2,324.8 L1307.5,325.6 L1308.8,324.8 L1310.0,324.3 L1311.2,323.1 L1312.5,323.1 L1313.8,322.9 L1315.0,322.5 L1316.2,322.4 L1317.5,322.8 L1318.8,323.1 L1319.8,322.1 L1320.8,321.4 L1321.9,320.0 L1323.1,317.9 L1324.4,315.6 L1325.4,314.8 L1326.5,313.9 L1327.5,312.5 L1328.8,312.4 L1330.0,311.9 L1331.2,311.9 L1332.3,311.7 L1333.3,310.6 L1334.4,310.6 L1335.4,311.4 L1336.5,312.7 L1337.5,313.8 L1338.4,314.1 L1339.4,313.8 L1340.3,308.2 L1341.2,302.5 L1342.5,299.8 L1343.8,298.1 L1344.7,299.0 L1345.6,300.0 L1346.6,301.9 L1347.5,304.4 L1348.8,303.7 L1350.0,304.2 L1351.2,303.8 L1352.3,302.6 L1353.3,302.1 L1354.4,301.2 L1355.4,301.2 L1356.5,301.9 L1357.5,302.5 L1358.5,302.5 L1359.6,301.9 L1360.6,301.2 L1361.6,303.3 L1362.5,306.2 L1363.8,306.2 L1365.0,306.4 L1366.2,306.9 L1367.5,307.6 L1368.8,308.8 L1370.0,308.2 L1371.2,307.6 L1372.5,307.5 L1373.8,305.5 L1375.0,303.8 L1376.2,305.9 L1377.5,308.1 L1378.8,308.4 L1380.0,309.1 L1381.2,309.4 L1382.3,309.6 L1383.3,310.5 L1384.4,311.2 L1385.6,312.6 L1386.9,313.8 L1387.9,313.1 L1389.0,312.7 L1390.0,311.9 L1391.2,311.4 L1392.5,311.2 L1393.8,310.0 L1395.0,309.4 L1396.2,309.9 L1397.5,310.6 L1398.8,309.9 L1400.0,309.4 L1401.2,309.3 L1402.5,310.0 L1403.8,309.1 L1405.0,308.1 L1405.9,305.8 L1406.9,303.1 L1407.9,303.0 L1409.0,302.6 L1410.0,301.9 L1411.0,300.4 L1412.1,300.2 L1413.1,298.8 L1414.2,298.1 L1415.2,297.5 L1416.2,296.9 L1417.5,295.6 L1418.8,294.4 L1419.7,295.7 L1420.6,297.5 L1421.7,297.0 L1422.7,297.0 L1423.8,297.5 L1425.0,299.2 L1426.2,300.0 L1427.5,301.7 L1428.8,303.1 L1430.0,304.8 L1431.2,305.6 L1432.5,303.8 L1433.8,302.5 L1435.0,300.5 L1436.2,299.4 L1437.2,297.1 L1438.1,295.6 L1439.2,295.4 L1440.2,294.3 L1441.2,294.4 L1442.5,291.9 L1443.4,293.3 L1444.4,294.4 L1445.6,294.8 L1446.9,295.0 L1448.1,296.1 L1449.4,296.2 L1450.3,295.8 L1451.2,294.4 L1452.5,291.0 L1454.0,295.0 L1455.1,296.0 L1456.2,296.2 L1457.3,296.1 L1458.3,296.6 L1459.4,297.5 L1460.4,298.0 L1461.5,297.9 L1462.5,298.1 L1463.8,298.2 L1465.0,298.0 L1466.2,297.5 L1467.5,296.9 L1468.8,296.4 L1470.0,296.2 L1471.2,295.0 L1472.5,293.8 L1473.8,293.6 L1475.0,292.5 L1476.2,293.0 L1477.5,293.8 L1478.8,293.6 L1480.0,292.5 L1481.2,293.9 L1482.5,294.4 L1483.8,295.2 L1485.0,296.9 L1486.2,297.4 L1487.5,296.6 L1488.8,296.9 L1490.0,297.2 L1491.2,296.7 L1492.5,296.2 L1493.8,295.2 L1495.0,293.8 L1496.2,293.8 L1497.5,293.1 L1498.8,293.4 L1500.0,293.8 L1500.9,294.9 L1501.9,296.9 L1503.1,303.8 L1504.4,305.0 L1505.6,304.5 L1506.9,303.1 L1507.8,304.8 L1508.8,305.6 L1510.0,306.4 L1511.2,306.9 L1512.5,307.0 L1513.8,306.7 L1515.0,306.2 L1516.0,306.3 L1517.1,305.6 L1518.1,305.0 L1519.4,304.4 L1520.6,303.1 L1521.6,304.5 L1522.5,305.6 L1523.8,305.9 L1525.0,306.9 L1526.2,307.1 L1527.5,306.8 L1528.8,306.9 L1530.0,308.1 L1531.2,308.8 L1532.5,308.8 L1533.8,308.5 L1535.0,308.1 L1536.2,308.6 L1537.5,308.5 L1538.8,308.8 L1540.0,308.9 L1541.2,309.3 L1542.5,309.4 L1543.8,309.7 L1545.0,309.6 L1546.2,310.0 L1547.5,310.0 L1548.8,310.8 L1550.0,311.2 L1551.2,310.4 L1552.5,308.8 L1553.8,308.1 L1555.0,308.7 L1556.2,308.1 L1557.5,308.3 L1558.8,308.6 L1560.0,308.8 L1561.2,309.2 L1562.5,309.6 L1563.8,309.4 L1564.8,309.0 L1565.8,308.9 L1566.9,308.1 L1567.9,308.7 L1569.0,309.5 L1570.0,310.0 L1571.2,310.9 L1572.5,311.2 L1573.8,311.9 L1575.0,312.3 L1576.2,313.3 L1577.5,313.8 L1578.6,313.5 L1579.7,313.9 L1580.8,313.4 L1581.9,313.8 L1582.0,313.8 L1585.0,313.8 L1585.0,363.3Z" fill="#f68c1f" />
<path d="M815.5,363.3 L815.5,322.1 L818.5,322.1 L819.5,321.6 L820.5,321.5 L821.8,322.7 L823.0,323.9 L824.2,325.2 L825.5,323.7 L826.8,322.7 L827.8,321.4 L828.8,320.6 L829.9,319.0 L831.1,319.8 L832.4,320.4 L833.6,321.5 L834.7,322.5 L835.8,323.3 L836.9,324.0 L838.0,324.6 L839.1,325.6 L840.2,326.4 L841.3,326.8 L842.4,327.7 L843.5,327.4 L844.6,326.8 L845.7,326.2 L846.8,325.9 L847.8,325.8 L848.9,325.3 L850.0,325.2 L851.1,325.2 L852.2,325.0 L853.3,325.2 L854.4,324.6 L855.5,324.6 L856.8,324.2 L858.0,323.5 L859.2,322.4 L860.5,322.0 L861.8,321.1 L862.8,320.6 L863.8,320.3 L864.8,319.4 L865.8,319.5 L866.8,318.8 L868.0,317.4 L869.2,316.8 L870.5,315.2 L871.8,314.2 L873.0,313.9 L874.2,312.9 L875.5,312.7 L876.8,311.9 L878.0,311.2 L879.2,310.3 L880.5,310.2 L881.8,309.4 L883.0,308.6 L884.2,307.3 L885.5,306.5 L886.8,304.9 L888.0,302.8 L889.2,300.5 L890.5,299.2 L891.8,298.5 L893.0,297.1 L894.2,297.9 L895.5,298.1 L896.5,300.7 L897.6,303.7 L898.6,306.2 L899.6,304.5 L900.5,303.1 L901.8,301.9 L903.0,300.0 L904.2,299.8 L905.5,300.6 L906.4,298.2 L907.4,295.6 L908.3,293.6 L909.2,292.5 L910.5,292.0 L911.8,292.2 L913.0,291.9 L913.9,292.6 L914.9,293.8 L915.8,297.0 L916.8,299.4 L918.0,300.8 L919.2,301.3 L920.2,299.1 L921.1,297.5 L922.8,294.4 L923.8,297.4 L924.9,299.4 L926.1,305.6 L927.4,311.9 L928.6,312.8 L929.9,313.8 L930.8,314.6 L931.8,315.7 L933.0,313.5 L934.2,311.9 L935.5,310.7 L936.8,309.4 L938.0,311.3 L939.2,312.6 L940.5,313.4 L941.8,314.4 L943.0,315.5 L944.2,316.3 L945.5,316.0 L946.8,315.7 L948.0,314.3 L949.2,312.6 L950.2,311.5 L951.1,311.3 L952.4,312.5 L953.6,313.8 L954.7,314.2 L955.7,315.0 L956.8,315.1 L958.0,315.6 L959.2,317.1 L960.5,317.6 L961.8,316.4 L963.0,315.7 L964.2,314.9 L965.5,314.5 L966.4,311.6 L967.4,308.2 L968.4,308.3 L969.5,308.5 L970.5,308.2 L971.8,308.0 L973.0,307.7 L974.2,307.0 L975.2,306.8 L976.2,306.7 L977.2,306.5 L978.2,306.0 L979.2,305.7 L980.2,305.5 L981.2,304.6 L982.2,304.9 L983.2,304.5 L984.2,303.9 L985.2,305.5 L986.1,307.0 L987.2,307.8 L988.2,307.9 L989.2,308.9 L990.5,310.4 L991.8,311.1 L993.0,312.6 L994.0,312.6 L995.0,312.8 L996.0,313.4 L997.0,313.3 L998.0,313.9 L999.0,314.1 L1000.0,314.1 L1001.0,313.9 L1002.0,313.8 L1003.0,313.9 L1004.0,314.1 L1005.0,314.7 L1006.0,314.8 L1007.0,314.9 L1008.0,315.1 L1009.1,315.4 L1010.2,315.5 L1011.3,315.4 L1012.4,315.8 L1013.3,319.1 L1014.2,322.0 L1015.5,324.5 L1016.8,323.4 L1018.0,322.0 L1019.2,321.9 L1020.5,321.2 L1021.8,320.8 L1023.0,319.1 L1024.2,317.7 L1025.5,315.8 L1026.8,314.6 L1028.0,313.8 L1029.2,313.3 L1030.3,312.7 L1031.3,311.9 L1032.4,311.4 L1033.4,312.6 L1034.5,314.1 L1035.5,315.8 L1036.6,316.1 L1037.7,316.3 L1038.8,316.1 L1039.9,316.4 L1040.9,317.1 L1042.0,318.0 L1043.0,318.9 L1044.0,320.9 L1045.1,322.5 L1046.1,324.6 L1047.2,326.1 L1048.2,327.6 L1049.2,328.9 L1050.5,327.9 L1051.8,326.4 L1053.0,325.2 L1054.2,325.2 L1055.5,325.5 L1056.8,325.8 L1058.0,326.8 L1059.2,327.3 L1060.5,328.4 L1061.6,327.9 L1062.7,327.6 L1063.8,327.3 L1064.9,327.1 L1066.1,325.1 L1067.4,323.1 L1068.6,321.1 L1069.9,324.0 L1071.1,326.5 L1072.2,326.7 L1073.3,327.0 L1074.4,327.4 L1075.5,327.8 L1076.8,328.3 L1078.0,328.6 L1079.2,329.0 L1080.5,329.5 L1081.8,329.8 L1083.0,330.3 L1084.2,329.3 L1085.5,327.6 L1086.8,326.5 L1087.8,325.9 L1088.8,324.8 L1089.9,324.0 L1090.9,324.8 L1092.0,325.3 L1093.0,325.9 L1094.0,324.6 L1095.1,323.6 L1096.1,322.8 L1097.2,321.9 L1098.2,320.9 L1099.2,320.3 L1100.5,319.6 L1101.8,318.0 L1103.0,317.2 L1104.2,315.6 L1105.5,313.4 L1106.4,315.1 L1107.4,316.5 L1108.6,319.4 L1109.9,321.5 L1111.1,320.7 L1112.4,320.1 L1113.6,319.1 L1114.9,319.5 L1116.1,319.7 L1117.4,320.3 L1118.4,319.4 L1119.5,317.9 L1120.5,316.6 L1121.8,315.1 L1123.0,314.1 L1124.0,314.6 L1125.1,314.9 L1126.1,315.3 L1127.2,314.6 L1128.2,314.6 L1129.2,314.1 L1130.3,314.6 L1131.3,315.0 L1132.4,316.0 L1133.4,316.0 L1134.5,316.4 L1135.5,316.6 L1136.5,315.9 L1137.6,314.6 L1138.6,313.5 L1139.9,315.5 L1141.1,317.2 L1142.4,318.6 L1143.6,320.4 L1145.2,322.2 L1146.8,315.4 L1147.8,314.5 L1148.8,313.1 L1149.9,311.6 L1150.9,309.9 L1152.0,307.9 L1153.0,306.0 L1153.9,307.1 L1154.9,308.5 L1156.1,305.2 L1157.4,301.0 L1158.4,300.9 L1159.5,301.2 L1160.5,301.1 L1161.8,303.7 L1163.0,295.1 L1164.0,293.5 L1165.1,292.4 L1166.1,291.7 L1167.1,290.3 L1168.0,290.0 L1169.0,287.8 L1170.1,286.3 L1171.1,284.4 L1172.2,282.1 L1173.2,280.3 L1174.2,278.8 L1175.5,276.7 L1176.8,273.8 L1178.0,271.8 L1179.2,270.0 L1180.2,273.5 L1181.1,276.2 L1182.1,279.8 L1183.0,283.8 L1183.9,280.9 L1184.9,277.5 L1185.9,277.2 L1187.0,277.6 L1188.0,277.5 L1189.2,280.5 L1190.5,283.8 L1191.8,287.1 L1193.0,290.0 L1193.9,290.7 L1194.9,292.5 L1195.8,289.7 L1196.8,287.5 L1198.0,287.9 L1199.2,288.1 L1200.0,288.8 L1201.2,288.9 L1202.5,289.2 L1203.8,288.8 L1204.8,286.9 L1205.8,286.3 L1206.9,285.0 L1208.1,281.3 L1209.4,278.8 L1210.3,279.4 L1211.2,280.6 L1212.2,282.8 L1213.1,286.2 L1214.1,289.2 L1215.0,291.9 L1216.1,293.4 L1217.1,294.0 L1217.5,295.6 L1218.8,294.5 L1220.0,293.2 L1221.2,291.2 L1222.5,292.5 L1223.8,294.0 L1225.0,295.0 L1226.2,294.6 L1227.5,294.3 L1228.8,293.8 L1230.0,295.5 L1231.2,296.6 L1232.5,297.5 L1233.5,299.3 L1234.6,300.5 L1235.6,301.9 L1236.6,302.1 L1237.5,301.2 L1238.8,305.1 L1240.0,308.8 L1241.2,311.9 L1242.5,314.1 L1243.8,316.9 L1245.0,316.4 L1246.2,314.9 L1247.5,314.4 L1248.8,314.3 L1250.0,313.4 L1251.2,313.1 L1252.5,313.1 L1253.8,312.4 L1255.0,312.5 L1256.2,313.2 L1257.5,313.8 L1258.5,313.0 L1259.6,312.0 L1260.6,310.6 L1261.9,313.1 L1263.1,315.0 L1264.2,315.0 L1265.2,315.2 L1266.2,315.0 L1267.5,314.1 L1268.8,313.1 L1269.7,316.0 L1270.6,318.8 L1271.7,319.2 L1272.7,319.9 L1273.8,320.6 L1274.8,322.7 L1275.8,324.7 L1276.9,326.9 L1278.0,326.6 L1279.1,326.1 L1280.2,325.7 L1281.2,325.0 L1282.2,324.9 L1283.2,324.0 L1284.2,324.0 L1285.2,323.2 L1286.2,323.1 L1287.5,323.3 L1288.8,323.0 L1290.0,323.1 L1291.2,321.8 L1292.5,321.2 L1293.8,320.0 L1294.8,321.4 L1295.8,322.7 L1296.9,323.8 L1297.9,324.6 L1299.0,325.6 L1300.0,326.9 L1301.2,327.8 L1302.5,328.4 L1303.8,329.4 L1305.0,330.3 L1306.2,331.3 L1307.5,332.5 L1308.8,331.7 L1310.0,331.1 L1311.2,330.0 L1312.5,330.1 L1313.8,330.1 L1315.0,330.0 L1316.2,329.7 L1317.5,329.9 L1318.8,330.0 L1319.8,329.2 L1320.8,328.6 L1321.9,327.5 L1322.9,326.1 L1324.0,324.7 L1325.0,323.1 L1326.2,322.5 L1327.5,321.2 L1328.8,320.6 L1330.0,320.3 L1331.2,319.9 L1332.5,320.0 L1333.5,319.7 L1334.6,319.7 L1335.6,320.0 L1336.9,321.1 L1338.1,322.5 L1339.1,320.0 L1340.0,316.9 L1340.9,314.1 L1341.9,311.2 L1343.1,309.9 L1344.4,309.4 L1345.6,311.3 L1346.9,313.1 L1348.1,314.2 L1349.4,315.0 L1350.4,314.6 L1351.5,314.1 L1352.5,313.1 L1353.5,312.7 L1354.6,311.9 L1355.6,311.9 L1356.7,311.7 L1357.7,312.2 L1358.8,311.9 L1360.0,312.4 L1361.2,312.5 L1362.2,314.7 L1363.1,317.5 L1364.2,317.5 L1365.2,317.7 L1366.2,318.1 L1367.3,318.8 L1368.3,319.9 L1369.4,320.6 L1370.4,319.7 L1371.5,318.7 L1372.5,318.1 L1373.8,316.8 L1375.0,315.6 L1376.0,317.0 L1377.1,318.5 L1378.1,320.0 L1379.4,320.7 L1380.6,320.9 L1381.9,321.9 L1382.9,322.4 L1384.0,323.1 L1385.0,323.8 L1385.9,325.4 L1386.9,326.9 L1387.9,326.3 L1389.0,325.8 L1390.0,325.0 L1391.0,324.2 L1392.1,323.5 L1393.1,323.1 L1394.2,323.0 L1395.2,322.2 L1396.2,321.9 L1397.5,322.0 L1398.8,321.8 L1400.0,321.9 L1401.2,321.6 L1402.5,322.2 L1403.8,321.9 L1405.0,319.6 L1406.2,317.5 L1407.3,316.9 L1408.3,316.9 L1409.4,316.2 L1410.6,315.1 L1411.9,313.8 L1413.1,313.1 L1414.2,312.7 L1415.2,312.3 L1416.2,311.9 L1417.3,311.3 L1418.3,310.6 L1419.4,310.0 L1420.3,310.7 L1421.2,311.9 L1422.3,311.7 L1423.3,311.9 L1424.4,312.5 L1425.6,314.1 L1426.9,315.0 L1427.9,316.3 L1429.0,317.2 L1430.0,318.8 L1431.2,317.8 L1432.5,316.9 L1433.8,316.3 L1435.0,315.0 L1436.2,313.7 L1437.5,311.9 L1438.8,311.4 L1440.0,310.6 L1441.2,310.2 L1442.5,309.4 L1443.5,309.9 L1444.6,309.9 L1445.6,310.6 L1446.7,311.0 L1447.7,311.2 L1448.8,311.2 L1450.0,309.9 L1451.2,309.4 L1452.5,306.9 L1453.4,308.4 L1454.4,310.0 L1455.3,311.6 L1456.2,312.5 L1457.5,312.7 L1458.8,313.8 L1459.8,314.1 L1460.8,314.0 L1461.9,314.1 L1462.9,314.4 L1464.0,314.4 L1465.0,314.4 L1466.0,314.4 L1467.1,313.6 L1468.1,313.6 L1469.2,313.3 L1470.2,313.5 L1471.2,313.1 L1472.3,312.6 L1473.3,312.3 L1474.4,312.8 L1475.4,312.3 L1476.5,312.0 L1477.5,311.9 L1478.5,312.4 L1479.6,312.4 L1480.6,312.1 L1481.7,313.0 L1482.7,313.3 L1483.8,313.1 L1484.8,313.5 L1485.8,313.3 L1486.9,313.5 L1487.9,312.9 L1489.0,313.5 L1490.0,313.1 L1491.0,313.1 L1492.1,312.4 L1493.1,312.4 L1494.2,312.6 L1495.2,312.3 L1496.2,312.1 L1497.2,312.9 L1498.2,312.9 L1499.2,313.4 L1500.2,313.4 L1501.2,314.2 L1502.5,317.1 L1503.8,320.2 L1505.0,320.5 L1506.2,321.1 L1507.5,321.1 L1508.8,321.9 L1510.0,322.4 L1511.2,322.9 L1512.5,323.2 L1513.8,323.1 L1515.0,322.9 L1516.2,322.8 L1517.5,322.3 L1518.8,321.7 L1520.0,321.3 L1521.2,320.4 L1522.5,321.2 L1523.8,322.3 L1525.0,322.7 L1526.2,323.3 L1527.5,323.6 L1528.8,323.8 L1530.0,324.6 L1531.2,324.8 L1532.5,325.0 L1533.8,325.0 L1535.0,324.8 L1536.0,325.1 L1537.0,325.1 L1538.0,325.2 L1539.0,325.1 L1540.0,325.4 L1541.0,325.3 L1542.0,325.8 L1543.0,325.8 L1544.0,326.0 L1545.0,326.1 L1546.2,326.7 L1547.5,326.6 L1548.8,327.3 L1550.0,326.6 L1551.2,326.1 L1552.5,325.5 L1553.8,325.0 L1555.0,324.8 L1556.2,325.2 L1557.5,325.6 L1558.8,326.1 L1560.0,326.7 L1561.2,327.1 L1562.5,327.3 L1563.8,326.9 L1565.0,326.5 L1566.2,325.9 L1567.5,326.0 L1568.8,326.5 L1570.0,326.8 L1571.2,327.5 L1572.5,327.7 L1573.8,328.2 L1575.0,328.4 L1576.2,328.9 L1577.5,329.0 L1578.6,328.7 L1579.7,328.7 L1580.8,328.1 L1581.9,328.1 L1582.0,328.1 L1585.0,328.1 L1585.0,363.3Z" fill="#d8dc5a" />
</g>
<g transform="translate(0,0)" opacity="0.46">
<path d="M681,338 C672,331 658,321 658.3,308.5 C658.5,301 664,296.5 669.5,296.8 C675,297 679,300.5 680,304.5 C681.5,300 686,296.5 692,296.8 C698,297 703.3,302 703,309.5 C702.5,320 690,331 681,338Z" fill="#ff32aa"/>
<g fill="none" stroke="#0a0a00" stroke-linecap="round" stroke-linejoin="round">
<path d="M665.5,310 L665.6,332.4 L675,332.8" stroke-width="4.6"/>
<path d="M680.6,307.5 C681,301.5 685.5,298.6 690.8,298.8 C697.2,299 701.2,303.8 700.4,310.2 C699.4,318 690,327.5 681.5,336 L700.8,336.8" stroke-width="4.8"/>
<g stroke-width="4.2">
<path d="M710.2,308.6 L710.2,332.3 M710.2,308.6 C715.5,308.2 718.8,310.2 718.8,313.8 C718.8,317.4 715.5,319.6 710.6,320 C716.2,320.2 719.8,322.6 719.8,326.4 C719.8,330.2 716,332.6 710.2,332.3"/>
<path d="M734.6,309.2 L726.6,309.4 L726.6,332.3 L735.2,332.2 M726.8,320.6 L733.4,320.4"/>
<path d="M738.4,333 L743.8,308.4 L749.8,333 M740.8,325.6 L747.4,325.6"/>
<path d="M753,309.4 L764.8,309 M758.9,309.4 L758.9,333.4"/>
</g>
</g>
</g>
<g transform="translate(797.5,0)" opacity="0.46">
<path d="M681,338 C672,331 658,321 658.3,308.5 C658.5,301 664,296.5 669.5,296.8 C675,297 679,300.5 680,304.5 C681.5,300 686,296.5 692,296.8 C698,297 703.3,302 703,309.5 C702.5,320 690,331 681,338Z" fill="#ff32aa"/>
<g fill="none" stroke="#0a0a00" stroke-linecap="round" stroke-linejoin="round">
<path d="M665.5,310 L665.6,332.4 L675,332.8" stroke-width="4.6"/>
<path d="M680.6,307.5 C681,301.5 685.5,298.6 690.8,298.8 C697.2,299 701.2,303.8 700.4,310.2 C699.4,318 690,327.5 681.5,336 L700.8,336.8" stroke-width="4.8"/>
<g stroke-width="4.2">
<path d="M710.2,308.6 L710.2,332.3 M710.2,308.6 C715.5,308.2 718.8,310.2 718.8,313.8 C718.8,317.4 715.5,319.6 710.6,320 C716.2,320.2 719.8,322.6 719.8,326.4 C719.8,330.2 716,332.6 710.2,332.3"/>
<path d="M734.6,309.2 L726.6,309.4 L726.6,332.3 L735.2,332.2 M726.8,320.6 L733.4,320.4"/>
<path d="M738.4,333 L743.8,308.4 L749.8,333 M740.8,325.6 L747.4,325.6"/>
<path d="M753,309.4 L764.8,309 M758.9,309.4 L758.9,333.4"/>
</g>
</g>
</g>
<rect x="21.0" y="131.9" width="763.5" height="1.2" fill="#000" fill-opacity="0.30"/><rect x="21.0" y="246.20000000000002" width="763.5" height="1.2" fill="#000" fill-opacity="0.30"/><rect x="21.0" y="359.6" width="763.5" height="1.0" fill="#000" fill-opacity="0.22"/><text x="32.7" y="125.6" font-size="20.6" fill="#000" fill-opacity="0.5" textLength="78.4" lengthAdjust="spacingAndGlyphs">$60.00B</text><text x="32.7" y="239.6" font-size="20.6" fill="#000" fill-opacity="0.5" textLength="78.4" lengthAdjust="spacingAndGlyphs">$30.00B</text><text x="32.7" y="353.8" font-size="20.6" fill="#000" fill-opacity="0.5" textLength="52.4" lengthAdjust="spacingAndGlyphs">$0.00</text><text x="124.5" y="381.4" font-size="14" fill="#4b4f58" stroke="#4b4f58" stroke-width="0.55" textLength="48.8" lengthAdjust="spacingAndGlyphs">May ‘24</text><text x="255.5" y="381.4" font-size="14" fill="#4b4f58" stroke="#4b4f58" stroke-width="0.55" textLength="46.5" lengthAdjust="spacingAndGlyphs">Sep ‘24</text><text x="384.7" y="381.4" font-size="14" fill="#4b4f58" stroke="#4b4f58" stroke-width="0.55" textLength="46.0" lengthAdjust="spacingAndGlyphs">Jan ‘25</text><text x="509.8" y="381.4" font-size="14" fill="#4b4f58" stroke="#4b4f58" stroke-width="0.55" textLength="49.1" lengthAdjust="spacingAndGlyphs">May ‘25</text><text x="640.8" y="381.4" font-size="14" fill="#4b4f58" stroke="#4b4f58" stroke-width="0.55" textLength="47.0" lengthAdjust="spacingAndGlyphs">Sep ‘25</text><rect x="88.8" y="352.3" width="15.4" height="15.4" transform="rotate(45 96.5 360)" fill="#067a0a" stroke="#58f258" stroke-width="2.1"/><rect x="532.6999999999999" y="352.3" width="15.4" height="15.4" transform="rotate(45 540.4 360)" fill="#067a0a" stroke="#58f258" stroke-width="2.1"/>
<rect x="818.5" y="131.9" width="763.5" height="1.2" fill="#000" fill-opacity="0.30"/><rect x="818.5" y="246.20000000000002" width="763.5" height="1.2" fill="#000" fill-opacity="0.30"/><rect x="818.5" y="359.6" width="763.5" height="1.0" fill="#000" fill-opacity="0.22"/><text x="830.2" y="125.6" font-size="20.6" fill="#000" fill-opacity="0.5" textLength="78.4" lengthAdjust="spacingAndGlyphs">$60.00B</text><text x="830.2" y="239.6" font-size="20.6" fill="#000" fill-opacity="0.5" textLength="78.4" lengthAdjust="spacingAndGlyphs">$30.00B</text><text x="830.2" y="353.8" font-size="20.6" fill="#000" fill-opacity="0.5" textLength="52.4" lengthAdjust="spacingAndGlyphs">$0.00</text><text x="922.0" y="381.4" font-size="14" fill="#4b4f58" stroke="#4b4f58" stroke-width="0.55" textLength="48.8" lengthAdjust="spacingAndGlyphs">May ‘24</text><text x="1053.0" y="381.4" font-size="14" fill="#4b4f58" stroke="#4b4f58" stroke-width="0.55" textLength="46.5" lengthAdjust="spacingAndGlyphs">Sep ‘24</text><text x="1182.2" y="381.4" font-size="14" fill="#4b4f58" stroke="#4b4f58" stroke-width="0.55" textLength="46.0" lengthAdjust="spacingAndGlyphs">Jan ‘25</text><text x="1307.3" y="381.4" font-size="14" fill="#4b4f58" stroke="#4b4f58" stroke-width="0.55" textLength="49.1" lengthAdjust="spacingAndGlyphs">May ‘25</text><text x="1438.3" y="381.4" font-size="14" fill="#4b4f58" stroke="#4b4f58" stroke-width="0.55" textLength="47.0" lengthAdjust="spacingAndGlyphs">Sep ‘25</text><rect x="886.3" y="352.3" width="15.4" height="15.4" transform="rotate(45 894.0 360)" fill="#067a0a" stroke="#58f258" stroke-width="2.1"/><rect x="1330.2" y="352.3" width="15.4" height="15.4" transform="rotate(45 1337.9 360)" fill="#067a0a" stroke="#58f258" stroke-width="2.1"/>
<rect x="168.1" y="404.7" width="16" height="16" rx="5.2" fill="#9175d1"/><text x="189.75" y="417.4" font-size="16" fill="#4d515a" stroke="#4d515a" stroke-width="0.5" textLength="142.7" lengthAdjust="spacingAndGlyphs">Canonically bridged</text><rect x="343.1" y="404.7" width="16" height="16" rx="5.2" fill="#ff40b0"/><text x="363.9" y="417.4" font-size="16" fill="#4d515a" stroke="#4d515a" stroke-width="0.5" textLength="112.5" lengthAdjust="spacingAndGlyphs">Natively minted</text><rect x="487.4" y="404.7" width="16" height="16" rx="5.2" fill="#ffc107"/><text x="508.3" y="417.4" font-size="16" fill="#4d515a" stroke="#4d515a" stroke-width="0.5" textLength="129.7" lengthAdjust="spacingAndGlyphs">Externally bridged</text><rect x="890.2" y="404.7" width="16" height="16" rx="5.2" fill="#2a58da"/><text x="911" y="417.4" font-size="16" fill="#4d515a" stroke="#4d515a" stroke-width="0.5" textLength="127.8" lengthAdjust="spacingAndGlyphs">ETH &amp; derivatives</text><rect x="1049.7" y="404.7" width="16" height="16" rx="5.2" fill="#30c4b4"/><text x="1070.7" y="417.4" font-size="16" fill="#4d515a" stroke="#4d515a" stroke-width="0.5" textLength="85.1" lengthAdjust="spacingAndGlyphs">Stablecoins</text><rect x="1166.2" y="404.7" width="16" height="16" rx="5.2" fill="#f68c1f"/><text x="1187" y="417.4" font-size="16" fill="#4d515a" stroke="#4d515a" stroke-width="0.5" textLength="127.5" lengthAdjust="spacingAndGlyphs">BTC &amp; derivatives</text><rect x="1325.3" y="404.7" width="16" height="16" rx="5.2" fill="#d8dc5a"/><text x="1346" y="417.4" font-size="16" fill="#4d515a" stroke="#4d515a" stroke-width="0.5" textLength="40.7" lengthAdjust="spacingAndGlyphs">Other</text><rect x="1396.8" y="404.7" width="16" height="16" rx="5.2" fill="#5fb040"/><text x="1418.5" y="417.4" font-size="16" fill="#4d515a" stroke="#4d515a" stroke-width="0.5" textLength="92.5" lengthAdjust="spacingAndGlyphs">Public RWAs</text>
</svg>
</body></html>
